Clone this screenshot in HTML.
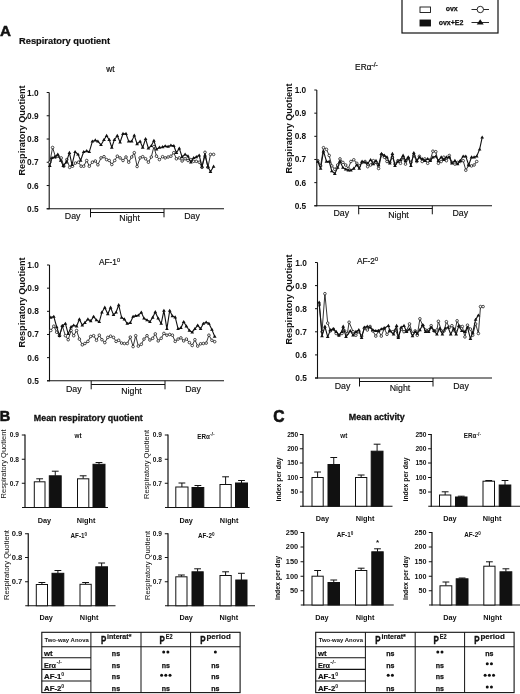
<!DOCTYPE html>
<html><head><meta charset="utf-8"><title>Figure</title>
<style>
html,body{margin:0;padding:0;background:#fff;}
body{width:520px;height:694px;overflow:hidden;font-family:'Liberation Sans', sans-serif;}
svg{display:block;filter:blur(0.3px);font-family:"Liberation Sans", sans-serif;fill:#111;}
</style></head><body>
<svg width="520" height="694" viewBox="0 0 520 694">
<rect x="0" y="0" width="520" height="694" fill="#fff"/>
<g id="A">
<text x="0.00" y="36.30" font-size="15.2" text-anchor="start" font-weight="bold" stroke="#111" stroke-width="0.5">A</text>
<text x="19.00" y="43.60" font-size="9" text-anchor="start" font-weight="bold" textLength="91" lengthAdjust="spacingAndGlyphs" stroke="#111" stroke-width="0.2">Respiratory quotient</text>
<line x1="49.20" y1="92.50" x2="49.20" y2="209.30" stroke="#111" stroke-width="1.1"/>
<line x1="46.70" y1="208.80" x2="224.00" y2="208.80" stroke="#111" stroke-width="1.1"/>
<line x1="46.70" y1="92.50" x2="49.20" y2="92.50" stroke="#111" stroke-width="1"/>
<text x="38.60" y="95.50" font-size="8.3" text-anchor="end" font-weight="bold" >1.0</text>
<line x1="46.70" y1="115.76" x2="49.20" y2="115.76" stroke="#111" stroke-width="1"/>
<text x="38.60" y="118.76" font-size="8.3" text-anchor="end" font-weight="bold" >0.9</text>
<line x1="46.70" y1="139.02" x2="49.20" y2="139.02" stroke="#111" stroke-width="1"/>
<text x="38.60" y="142.02" font-size="8.3" text-anchor="end" font-weight="bold" >0.8</text>
<line x1="46.70" y1="162.28" x2="49.20" y2="162.28" stroke="#111" stroke-width="1"/>
<text x="38.60" y="165.28" font-size="8.3" text-anchor="end" font-weight="bold" >0.7</text>
<line x1="46.70" y1="185.54" x2="49.20" y2="185.54" stroke="#111" stroke-width="1"/>
<text x="38.60" y="188.54" font-size="8.3" text-anchor="end" font-weight="bold" >0.6</text>
<line x1="46.70" y1="208.80" x2="49.20" y2="208.80" stroke="#111" stroke-width="1"/>
<text x="38.60" y="211.80" font-size="8.3" text-anchor="end" font-weight="bold" >0.5</text>
<text x="24.70" y="130.50" font-size="8.6" text-anchor="middle" font-weight="bold" textLength="90" lengthAdjust="spacingAndGlyphs" transform="rotate(-90 24.70 130.50)" >Respiratory Quotient</text>
<text x="110.5" y="72.0" font-size="8.3" text-anchor="middle" stroke="#111" stroke-width="0.2">wt</text>
<line x1="90.50" y1="208.80" x2="90.50" y2="217.30" stroke="#111" stroke-width="1"/>
<line x1="164.00" y1="208.80" x2="164.00" y2="217.30" stroke="#111" stroke-width="1"/>
<line x1="90.50" y1="212.50" x2="164.00" y2="212.50" stroke="#111" stroke-width="1"/>
<text x="72.70" y="219.40" font-size="8.8" text-anchor="middle" stroke="#111" stroke-width="0.15">Day</text>
<text x="129.60" y="221.00" font-size="8.8" text-anchor="middle" stroke="#111" stroke-width="0.15">Night</text>
<text x="192.00" y="219.40" font-size="8.8" text-anchor="middle" stroke="#111" stroke-width="0.15">Day</text>
<polyline points="49.8,162.2 52.6,147.5 55.5,157.0 58.1,156.2 61.2,157.9 63.8,166.2 66.8,159.6 69.7,167.4 72.5,166.2 75.4,163.1 78.4,162.2 81.1,166.2 83.7,166.2 86.7,160.5 89.3,166.2 92.4,162.2 95.3,161.0 97.9,164.8 101.0,157.9 104.0,156.7 106.6,159.6 109.2,160.5 111.8,164.5 114.7,160.5 117.3,156.2 120.1,157.9 123.0,160.5 126.0,157.0 128.7,162.2 131.7,157.0 134.3,152.7 137.1,166.5 140.1,157.9 142.7,156.7 145.6,158.8 148.4,162.2 151.3,157.0 153.9,146.6 156.5,156.2 159.4,159.6 162.6,156.7 165.2,157.9 168.1,157.0 170.9,156.2 173.8,152.7 176.4,158.8 179.3,157.9 182.1,161.0 185.1,158.8 188.0,160.5 190.8,159.6 193.7,161.3 196.3,161.3 199.2,162.2 202.0,167.4 205.0,152.3 207.9,167.4 210.5,154.4 213.6,154.4" fill="none" stroke="#111" stroke-width="0.85" stroke-linejoin="round"/>
<circle cx="49.8" cy="162.2" r="1.3" fill="#fff" stroke="#111" stroke-width="0.75"/>
<circle cx="52.6" cy="147.5" r="1.3" fill="#fff" stroke="#111" stroke-width="0.75"/>
<circle cx="55.5" cy="157.0" r="1.3" fill="#fff" stroke="#111" stroke-width="0.75"/>
<circle cx="58.1" cy="156.2" r="1.3" fill="#fff" stroke="#111" stroke-width="0.75"/>
<circle cx="61.2" cy="157.9" r="1.3" fill="#fff" stroke="#111" stroke-width="0.75"/>
<circle cx="63.8" cy="166.2" r="1.3" fill="#fff" stroke="#111" stroke-width="0.75"/>
<circle cx="66.8" cy="159.6" r="1.3" fill="#fff" stroke="#111" stroke-width="0.75"/>
<circle cx="69.7" cy="167.4" r="1.3" fill="#fff" stroke="#111" stroke-width="0.75"/>
<circle cx="72.5" cy="166.2" r="1.3" fill="#fff" stroke="#111" stroke-width="0.75"/>
<circle cx="75.4" cy="163.1" r="1.3" fill="#fff" stroke="#111" stroke-width="0.75"/>
<circle cx="78.4" cy="162.2" r="1.3" fill="#fff" stroke="#111" stroke-width="0.75"/>
<circle cx="81.1" cy="166.2" r="1.3" fill="#fff" stroke="#111" stroke-width="0.75"/>
<circle cx="83.7" cy="166.2" r="1.3" fill="#fff" stroke="#111" stroke-width="0.75"/>
<circle cx="86.7" cy="160.5" r="1.3" fill="#fff" stroke="#111" stroke-width="0.75"/>
<circle cx="89.3" cy="166.2" r="1.3" fill="#fff" stroke="#111" stroke-width="0.75"/>
<circle cx="92.4" cy="162.2" r="1.3" fill="#fff" stroke="#111" stroke-width="0.75"/>
<circle cx="95.3" cy="161.0" r="1.3" fill="#fff" stroke="#111" stroke-width="0.75"/>
<circle cx="97.9" cy="164.8" r="1.3" fill="#fff" stroke="#111" stroke-width="0.75"/>
<circle cx="101.0" cy="157.9" r="1.3" fill="#fff" stroke="#111" stroke-width="0.75"/>
<circle cx="104.0" cy="156.7" r="1.3" fill="#fff" stroke="#111" stroke-width="0.75"/>
<circle cx="106.6" cy="159.6" r="1.3" fill="#fff" stroke="#111" stroke-width="0.75"/>
<circle cx="109.2" cy="160.5" r="1.3" fill="#fff" stroke="#111" stroke-width="0.75"/>
<circle cx="111.8" cy="164.5" r="1.3" fill="#fff" stroke="#111" stroke-width="0.75"/>
<circle cx="114.7" cy="160.5" r="1.3" fill="#fff" stroke="#111" stroke-width="0.75"/>
<circle cx="117.3" cy="156.2" r="1.3" fill="#fff" stroke="#111" stroke-width="0.75"/>
<circle cx="120.1" cy="157.9" r="1.3" fill="#fff" stroke="#111" stroke-width="0.75"/>
<circle cx="123.0" cy="160.5" r="1.3" fill="#fff" stroke="#111" stroke-width="0.75"/>
<circle cx="126.0" cy="157.0" r="1.3" fill="#fff" stroke="#111" stroke-width="0.75"/>
<circle cx="128.7" cy="162.2" r="1.3" fill="#fff" stroke="#111" stroke-width="0.75"/>
<circle cx="131.7" cy="157.0" r="1.3" fill="#fff" stroke="#111" stroke-width="0.75"/>
<circle cx="134.3" cy="152.7" r="1.3" fill="#fff" stroke="#111" stroke-width="0.75"/>
<circle cx="137.1" cy="166.5" r="1.3" fill="#fff" stroke="#111" stroke-width="0.75"/>
<circle cx="140.1" cy="157.9" r="1.3" fill="#fff" stroke="#111" stroke-width="0.75"/>
<circle cx="142.7" cy="156.7" r="1.3" fill="#fff" stroke="#111" stroke-width="0.75"/>
<circle cx="145.6" cy="158.8" r="1.3" fill="#fff" stroke="#111" stroke-width="0.75"/>
<circle cx="148.4" cy="162.2" r="1.3" fill="#fff" stroke="#111" stroke-width="0.75"/>
<circle cx="151.3" cy="157.0" r="1.3" fill="#fff" stroke="#111" stroke-width="0.75"/>
<circle cx="153.9" cy="146.6" r="1.3" fill="#fff" stroke="#111" stroke-width="0.75"/>
<circle cx="156.5" cy="156.2" r="1.3" fill="#fff" stroke="#111" stroke-width="0.75"/>
<circle cx="159.4" cy="159.6" r="1.3" fill="#fff" stroke="#111" stroke-width="0.75"/>
<circle cx="162.6" cy="156.7" r="1.3" fill="#fff" stroke="#111" stroke-width="0.75"/>
<circle cx="165.2" cy="157.9" r="1.3" fill="#fff" stroke="#111" stroke-width="0.75"/>
<circle cx="168.1" cy="157.0" r="1.3" fill="#fff" stroke="#111" stroke-width="0.75"/>
<circle cx="170.9" cy="156.2" r="1.3" fill="#fff" stroke="#111" stroke-width="0.75"/>
<circle cx="173.8" cy="152.7" r="1.3" fill="#fff" stroke="#111" stroke-width="0.75"/>
<circle cx="176.4" cy="158.8" r="1.3" fill="#fff" stroke="#111" stroke-width="0.75"/>
<circle cx="179.3" cy="157.9" r="1.3" fill="#fff" stroke="#111" stroke-width="0.75"/>
<circle cx="182.1" cy="161.0" r="1.3" fill="#fff" stroke="#111" stroke-width="0.75"/>
<circle cx="185.1" cy="158.8" r="1.3" fill="#fff" stroke="#111" stroke-width="0.75"/>
<circle cx="188.0" cy="160.5" r="1.3" fill="#fff" stroke="#111" stroke-width="0.75"/>
<circle cx="190.8" cy="159.6" r="1.3" fill="#fff" stroke="#111" stroke-width="0.75"/>
<circle cx="193.7" cy="161.3" r="1.3" fill="#fff" stroke="#111" stroke-width="0.75"/>
<circle cx="196.3" cy="161.3" r="1.3" fill="#fff" stroke="#111" stroke-width="0.75"/>
<circle cx="199.2" cy="162.2" r="1.3" fill="#fff" stroke="#111" stroke-width="0.75"/>
<circle cx="202.0" cy="167.4" r="1.3" fill="#fff" stroke="#111" stroke-width="0.75"/>
<circle cx="205.0" cy="152.3" r="1.3" fill="#fff" stroke="#111" stroke-width="0.75"/>
<circle cx="207.9" cy="167.4" r="1.3" fill="#fff" stroke="#111" stroke-width="0.75"/>
<circle cx="210.5" cy="154.4" r="1.3" fill="#fff" stroke="#111" stroke-width="0.75"/>
<circle cx="213.6" cy="154.4" r="1.3" fill="#fff" stroke="#111" stroke-width="0.75"/>
<polyline points="49.8,165.7 52.1,157.9 54.7,157.0 57.8,154.4 60.7,160.5 63.3,165.7 66.4,162.2 69.4,152.7 72.0,164.8 75.1,151.8 78.0,154.4 80.6,160.5 83.7,151.8 86.7,151.0 89.3,151.8 92.4,141.4 95.3,140.2 97.9,141.4 101.0,144.9 104.0,139.7 106.6,135.7 109.2,139.7 111.8,147.5 114.4,139.7 117.3,135.7 120.1,142.3 123.0,133.7 126.0,133.7 128.7,141.4 131.7,141.4 134.3,135.4 137.1,144.0 140.1,141.4 142.7,147.5 145.6,138.8 148.4,148.4 151.3,145.8 153.9,140.6 156.5,149.2 159.4,147.5 162.6,147.0 165.2,146.1 168.1,146.6 170.9,145.4 173.8,145.8 176.4,152.7 179.3,148.4 182.1,157.0 185.1,154.4 188.0,156.2 190.8,162.2 193.7,157.9 196.3,157.0 199.2,155.3 202.0,166.5 205.0,155.3 207.9,166.5 210.5,171.7 213.6,166.5" fill="none" stroke="#111" stroke-width="1.1" stroke-linejoin="round"/>
<path d="M49.8 163.8l1.85 3.1h-3.7z" fill="#111"/>
<path d="M52.1 156.0l1.85 3.1h-3.7z" fill="#111"/>
<path d="M54.7 155.1l1.85 3.1h-3.7z" fill="#111"/>
<path d="M57.8 152.5l1.85 3.1h-3.7z" fill="#111"/>
<path d="M60.7 158.6l1.85 3.1h-3.7z" fill="#111"/>
<path d="M63.3 163.8l1.85 3.1h-3.7z" fill="#111"/>
<path d="M66.4 160.3l1.85 3.1h-3.7z" fill="#111"/>
<path d="M69.4 150.8l1.85 3.1h-3.7z" fill="#111"/>
<path d="M72.0 162.9l1.85 3.1h-3.7z" fill="#111"/>
<path d="M75.1 149.9l1.85 3.1h-3.7z" fill="#111"/>
<path d="M78.0 152.5l1.85 3.1h-3.7z" fill="#111"/>
<path d="M80.6 158.6l1.85 3.1h-3.7z" fill="#111"/>
<path d="M83.7 149.9l1.85 3.1h-3.7z" fill="#111"/>
<path d="M86.7 149.1l1.85 3.1h-3.7z" fill="#111"/>
<path d="M89.3 149.9l1.85 3.1h-3.7z" fill="#111"/>
<path d="M92.4 139.5l1.85 3.1h-3.7z" fill="#111"/>
<path d="M95.3 138.3l1.85 3.1h-3.7z" fill="#111"/>
<path d="M97.9 139.5l1.85 3.1h-3.7z" fill="#111"/>
<path d="M101.0 143.0l1.85 3.1h-3.7z" fill="#111"/>
<path d="M104.0 137.8l1.85 3.1h-3.7z" fill="#111"/>
<path d="M106.6 133.8l1.85 3.1h-3.7z" fill="#111"/>
<path d="M109.2 137.8l1.85 3.1h-3.7z" fill="#111"/>
<path d="M111.8 145.6l1.85 3.1h-3.7z" fill="#111"/>
<path d="M114.4 137.8l1.85 3.1h-3.7z" fill="#111"/>
<path d="M117.3 133.8l1.85 3.1h-3.7z" fill="#111"/>
<path d="M120.1 140.4l1.85 3.1h-3.7z" fill="#111"/>
<path d="M123.0 131.8l1.85 3.1h-3.7z" fill="#111"/>
<path d="M126.0 131.8l1.85 3.1h-3.7z" fill="#111"/>
<path d="M128.7 139.5l1.85 3.1h-3.7z" fill="#111"/>
<path d="M131.7 139.5l1.85 3.1h-3.7z" fill="#111"/>
<path d="M134.3 133.5l1.85 3.1h-3.7z" fill="#111"/>
<path d="M137.1 142.1l1.85 3.1h-3.7z" fill="#111"/>
<path d="M140.1 139.5l1.85 3.1h-3.7z" fill="#111"/>
<path d="M142.7 145.6l1.85 3.1h-3.7z" fill="#111"/>
<path d="M145.6 136.9l1.85 3.1h-3.7z" fill="#111"/>
<path d="M148.4 146.5l1.85 3.1h-3.7z" fill="#111"/>
<path d="M151.3 143.9l1.85 3.1h-3.7z" fill="#111"/>
<path d="M153.9 138.7l1.85 3.1h-3.7z" fill="#111"/>
<path d="M156.5 147.3l1.85 3.1h-3.7z" fill="#111"/>
<path d="M159.4 145.6l1.85 3.1h-3.7z" fill="#111"/>
<path d="M162.6 145.1l1.85 3.1h-3.7z" fill="#111"/>
<path d="M165.2 144.2l1.85 3.1h-3.7z" fill="#111"/>
<path d="M168.1 144.7l1.85 3.1h-3.7z" fill="#111"/>
<path d="M170.9 143.5l1.85 3.1h-3.7z" fill="#111"/>
<path d="M173.8 143.9l1.85 3.1h-3.7z" fill="#111"/>
<path d="M176.4 150.8l1.85 3.1h-3.7z" fill="#111"/>
<path d="M179.3 146.5l1.85 3.1h-3.7z" fill="#111"/>
<path d="M182.1 155.1l1.85 3.1h-3.7z" fill="#111"/>
<path d="M185.1 152.5l1.85 3.1h-3.7z" fill="#111"/>
<path d="M188.0 154.3l1.85 3.1h-3.7z" fill="#111"/>
<path d="M190.8 160.3l1.85 3.1h-3.7z" fill="#111"/>
<path d="M193.7 156.0l1.85 3.1h-3.7z" fill="#111"/>
<path d="M196.3 155.1l1.85 3.1h-3.7z" fill="#111"/>
<path d="M199.2 153.4l1.85 3.1h-3.7z" fill="#111"/>
<path d="M202.0 164.6l1.85 3.1h-3.7z" fill="#111"/>
<path d="M205.0 153.4l1.85 3.1h-3.7z" fill="#111"/>
<path d="M207.9 164.6l1.85 3.1h-3.7z" fill="#111"/>
<path d="M210.5 169.8l1.85 3.1h-3.7z" fill="#111"/>
<path d="M213.6 164.6l1.85 3.1h-3.7z" fill="#111"/>
<line x1="316.80" y1="90.00" x2="316.80" y2="206.30" stroke="#111" stroke-width="1.1"/>
<line x1="314.30" y1="205.80" x2="492.00" y2="205.80" stroke="#111" stroke-width="1.1"/>
<line x1="314.30" y1="90.00" x2="316.80" y2="90.00" stroke="#111" stroke-width="1"/>
<text x="306.20" y="93.00" font-size="8.3" text-anchor="end" font-weight="bold" >1.0</text>
<line x1="314.30" y1="113.16" x2="316.80" y2="113.16" stroke="#111" stroke-width="1"/>
<text x="306.20" y="116.16" font-size="8.3" text-anchor="end" font-weight="bold" >0.9</text>
<line x1="314.30" y1="136.32" x2="316.80" y2="136.32" stroke="#111" stroke-width="1"/>
<text x="306.20" y="139.32" font-size="8.3" text-anchor="end" font-weight="bold" >0.8</text>
<line x1="314.30" y1="159.48" x2="316.80" y2="159.48" stroke="#111" stroke-width="1"/>
<text x="306.20" y="162.48" font-size="8.3" text-anchor="end" font-weight="bold" >0.7</text>
<line x1="314.30" y1="182.64" x2="316.80" y2="182.64" stroke="#111" stroke-width="1"/>
<text x="306.20" y="185.64" font-size="8.3" text-anchor="end" font-weight="bold" >0.6</text>
<line x1="314.30" y1="205.80" x2="316.80" y2="205.80" stroke="#111" stroke-width="1"/>
<text x="306.20" y="208.80" font-size="8.3" text-anchor="end" font-weight="bold" >0.5</text>
<text x="291.70" y="128.50" font-size="8.6" text-anchor="middle" font-weight="bold" textLength="90" lengthAdjust="spacingAndGlyphs" transform="rotate(-90 291.70 128.50)" >Respiratory Quotient</text>
<text x="366.4" y="70.2" font-size="8.3" text-anchor="middle" stroke="#111" stroke-width="0.2">ERα<tspan font-size="6.6" dy="-3.4">-/-</tspan></text>
<line x1="358.70" y1="205.80" x2="358.70" y2="214.30" stroke="#111" stroke-width="1"/>
<line x1="432.30" y1="205.80" x2="432.30" y2="214.30" stroke="#111" stroke-width="1"/>
<line x1="358.70" y1="208.50" x2="432.30" y2="208.50" stroke="#111" stroke-width="1"/>
<text x="341.30" y="215.90" font-size="8.8" text-anchor="middle" stroke="#111" stroke-width="0.15">Day</text>
<text x="398.50" y="217.50" font-size="8.8" text-anchor="middle" stroke="#111" stroke-width="0.15">Night</text>
<text x="460.30" y="215.90" font-size="8.8" text-anchor="middle" stroke="#111" stroke-width="0.15">Day</text>
<polyline points="317.8,160.7 320.6,165.9 323.5,147.7 326.5,149.4 329.2,155.5 331.8,165.9 334.8,169.3 337.7,165.0 340.0,158.9 342.9,162.4 345.7,165.0 348.3,168.5 350.9,161.5 353.8,159.8 356.8,163.3 359.3,165.9 362.1,162.4 365.1,161.5 367.7,166.7 370.6,165.0 373.4,160.7 376.0,162.4 378.6,168.5 381.5,154.6 384.4,157.2 387.0,161.5 389.8,162.4 392.4,157.2 395.0,164.1 397.9,160.7 400.5,163.3 403.1,157.2 405.5,164.1 408.3,158.1 410.9,162.4 413.8,155.5 416.8,161.5 419.4,156.3 422.2,161.5 424.8,158.9 427.7,163.3 430.3,159.8 432.9,151.2 435.8,151.7 438.4,163.3 441.2,161.5 443.8,157.2 446.4,160.7 449.3,155.5 451.9,162.4 454.9,164.1 457.6,162.4 460.2,161.5 463.2,160.7 465.8,170.2 468.7,165.3 471.5,165.9 474.1,165.0 476.7,161.5" fill="none" stroke="#111" stroke-width="0.85" stroke-linejoin="round"/>
<circle cx="317.8" cy="160.7" r="1.3" fill="#fff" stroke="#111" stroke-width="0.75"/>
<circle cx="320.6" cy="165.9" r="1.3" fill="#fff" stroke="#111" stroke-width="0.75"/>
<circle cx="323.5" cy="147.7" r="1.3" fill="#fff" stroke="#111" stroke-width="0.75"/>
<circle cx="326.5" cy="149.4" r="1.3" fill="#fff" stroke="#111" stroke-width="0.75"/>
<circle cx="329.2" cy="155.5" r="1.3" fill="#fff" stroke="#111" stroke-width="0.75"/>
<circle cx="331.8" cy="165.9" r="1.3" fill="#fff" stroke="#111" stroke-width="0.75"/>
<circle cx="334.8" cy="169.3" r="1.3" fill="#fff" stroke="#111" stroke-width="0.75"/>
<circle cx="337.7" cy="165.0" r="1.3" fill="#fff" stroke="#111" stroke-width="0.75"/>
<circle cx="340.0" cy="158.9" r="1.3" fill="#fff" stroke="#111" stroke-width="0.75"/>
<circle cx="342.9" cy="162.4" r="1.3" fill="#fff" stroke="#111" stroke-width="0.75"/>
<circle cx="345.7" cy="165.0" r="1.3" fill="#fff" stroke="#111" stroke-width="0.75"/>
<circle cx="348.3" cy="168.5" r="1.3" fill="#fff" stroke="#111" stroke-width="0.75"/>
<circle cx="350.9" cy="161.5" r="1.3" fill="#fff" stroke="#111" stroke-width="0.75"/>
<circle cx="353.8" cy="159.8" r="1.3" fill="#fff" stroke="#111" stroke-width="0.75"/>
<circle cx="356.8" cy="163.3" r="1.3" fill="#fff" stroke="#111" stroke-width="0.75"/>
<circle cx="359.3" cy="165.9" r="1.3" fill="#fff" stroke="#111" stroke-width="0.75"/>
<circle cx="362.1" cy="162.4" r="1.3" fill="#fff" stroke="#111" stroke-width="0.75"/>
<circle cx="365.1" cy="161.5" r="1.3" fill="#fff" stroke="#111" stroke-width="0.75"/>
<circle cx="367.7" cy="166.7" r="1.3" fill="#fff" stroke="#111" stroke-width="0.75"/>
<circle cx="370.6" cy="165.0" r="1.3" fill="#fff" stroke="#111" stroke-width="0.75"/>
<circle cx="373.4" cy="160.7" r="1.3" fill="#fff" stroke="#111" stroke-width="0.75"/>
<circle cx="376.0" cy="162.4" r="1.3" fill="#fff" stroke="#111" stroke-width="0.75"/>
<circle cx="378.6" cy="168.5" r="1.3" fill="#fff" stroke="#111" stroke-width="0.75"/>
<circle cx="381.5" cy="154.6" r="1.3" fill="#fff" stroke="#111" stroke-width="0.75"/>
<circle cx="384.4" cy="157.2" r="1.3" fill="#fff" stroke="#111" stroke-width="0.75"/>
<circle cx="387.0" cy="161.5" r="1.3" fill="#fff" stroke="#111" stroke-width="0.75"/>
<circle cx="389.8" cy="162.4" r="1.3" fill="#fff" stroke="#111" stroke-width="0.75"/>
<circle cx="392.4" cy="157.2" r="1.3" fill="#fff" stroke="#111" stroke-width="0.75"/>
<circle cx="395.0" cy="164.1" r="1.3" fill="#fff" stroke="#111" stroke-width="0.75"/>
<circle cx="397.9" cy="160.7" r="1.3" fill="#fff" stroke="#111" stroke-width="0.75"/>
<circle cx="400.5" cy="163.3" r="1.3" fill="#fff" stroke="#111" stroke-width="0.75"/>
<circle cx="403.1" cy="157.2" r="1.3" fill="#fff" stroke="#111" stroke-width="0.75"/>
<circle cx="405.5" cy="164.1" r="1.3" fill="#fff" stroke="#111" stroke-width="0.75"/>
<circle cx="408.3" cy="158.1" r="1.3" fill="#fff" stroke="#111" stroke-width="0.75"/>
<circle cx="410.9" cy="162.4" r="1.3" fill="#fff" stroke="#111" stroke-width="0.75"/>
<circle cx="413.8" cy="155.5" r="1.3" fill="#fff" stroke="#111" stroke-width="0.75"/>
<circle cx="416.8" cy="161.5" r="1.3" fill="#fff" stroke="#111" stroke-width="0.75"/>
<circle cx="419.4" cy="156.3" r="1.3" fill="#fff" stroke="#111" stroke-width="0.75"/>
<circle cx="422.2" cy="161.5" r="1.3" fill="#fff" stroke="#111" stroke-width="0.75"/>
<circle cx="424.8" cy="158.9" r="1.3" fill="#fff" stroke="#111" stroke-width="0.75"/>
<circle cx="427.7" cy="163.3" r="1.3" fill="#fff" stroke="#111" stroke-width="0.75"/>
<circle cx="430.3" cy="159.8" r="1.3" fill="#fff" stroke="#111" stroke-width="0.75"/>
<circle cx="432.9" cy="151.2" r="1.3" fill="#fff" stroke="#111" stroke-width="0.75"/>
<circle cx="435.8" cy="151.7" r="1.3" fill="#fff" stroke="#111" stroke-width="0.75"/>
<circle cx="438.4" cy="163.3" r="1.3" fill="#fff" stroke="#111" stroke-width="0.75"/>
<circle cx="441.2" cy="161.5" r="1.3" fill="#fff" stroke="#111" stroke-width="0.75"/>
<circle cx="443.8" cy="157.2" r="1.3" fill="#fff" stroke="#111" stroke-width="0.75"/>
<circle cx="446.4" cy="160.7" r="1.3" fill="#fff" stroke="#111" stroke-width="0.75"/>
<circle cx="449.3" cy="155.5" r="1.3" fill="#fff" stroke="#111" stroke-width="0.75"/>
<circle cx="451.9" cy="162.4" r="1.3" fill="#fff" stroke="#111" stroke-width="0.75"/>
<circle cx="454.9" cy="164.1" r="1.3" fill="#fff" stroke="#111" stroke-width="0.75"/>
<circle cx="457.6" cy="162.4" r="1.3" fill="#fff" stroke="#111" stroke-width="0.75"/>
<circle cx="460.2" cy="161.5" r="1.3" fill="#fff" stroke="#111" stroke-width="0.75"/>
<circle cx="463.2" cy="160.7" r="1.3" fill="#fff" stroke="#111" stroke-width="0.75"/>
<circle cx="465.8" cy="170.2" r="1.3" fill="#fff" stroke="#111" stroke-width="0.75"/>
<circle cx="468.7" cy="165.3" r="1.3" fill="#fff" stroke="#111" stroke-width="0.75"/>
<circle cx="471.5" cy="165.9" r="1.3" fill="#fff" stroke="#111" stroke-width="0.75"/>
<circle cx="474.1" cy="165.0" r="1.3" fill="#fff" stroke="#111" stroke-width="0.75"/>
<circle cx="476.7" cy="161.5" r="1.3" fill="#fff" stroke="#111" stroke-width="0.75"/>
<polyline points="317.8,161.5 320.6,168.5 323.5,151.2 326.5,161.5 329.2,161.5 331.8,171.1 334.8,173.7 337.7,167.6 340.0,161.5 342.9,167.6 345.7,169.3 348.3,170.2 350.9,170.2 353.8,168.5 356.8,165.0 359.3,168.5 362.1,161.5 365.1,162.4 367.7,163.3 370.6,159.8 373.4,164.1 376.0,160.7 378.6,165.0 381.5,153.8 384.4,155.5 387.0,157.2 389.8,163.3 392.4,153.8 395.0,165.9 397.9,161.5 400.5,159.8 403.1,155.5 405.5,160.7 408.3,157.2 410.9,165.9 413.8,152.9 416.8,160.7 419.4,157.2 422.2,158.9 424.8,160.7 427.7,158.9 430.3,160.7 432.9,157.2 435.8,156.3 438.4,160.7 441.2,157.2 443.8,159.8 446.4,157.2 449.3,157.2 451.9,163.3 454.9,160.7 457.6,164.1 460.2,160.7 463.2,156.3 465.8,156.3 468.7,165.0 471.5,157.2 474.1,157.2 476.7,156.3 479.6,149.4 482.2,137.3" fill="none" stroke="#111" stroke-width="1.1" stroke-linejoin="round"/>
<path d="M317.8 159.6l1.85 3.1h-3.7z" fill="#111"/>
<path d="M320.6 166.6l1.85 3.1h-3.7z" fill="#111"/>
<path d="M323.5 149.3l1.85 3.1h-3.7z" fill="#111"/>
<path d="M326.5 159.6l1.85 3.1h-3.7z" fill="#111"/>
<path d="M329.2 159.6l1.85 3.1h-3.7z" fill="#111"/>
<path d="M331.8 169.2l1.85 3.1h-3.7z" fill="#111"/>
<path d="M334.8 171.8l1.85 3.1h-3.7z" fill="#111"/>
<path d="M337.7 165.7l1.85 3.1h-3.7z" fill="#111"/>
<path d="M340.0 159.6l1.85 3.1h-3.7z" fill="#111"/>
<path d="M342.9 165.7l1.85 3.1h-3.7z" fill="#111"/>
<path d="M345.7 167.4l1.85 3.1h-3.7z" fill="#111"/>
<path d="M348.3 168.3l1.85 3.1h-3.7z" fill="#111"/>
<path d="M350.9 168.3l1.85 3.1h-3.7z" fill="#111"/>
<path d="M353.8 166.6l1.85 3.1h-3.7z" fill="#111"/>
<path d="M356.8 163.1l1.85 3.1h-3.7z" fill="#111"/>
<path d="M359.3 166.6l1.85 3.1h-3.7z" fill="#111"/>
<path d="M362.1 159.6l1.85 3.1h-3.7z" fill="#111"/>
<path d="M365.1 160.5l1.85 3.1h-3.7z" fill="#111"/>
<path d="M367.7 161.4l1.85 3.1h-3.7z" fill="#111"/>
<path d="M370.6 157.9l1.85 3.1h-3.7z" fill="#111"/>
<path d="M373.4 162.2l1.85 3.1h-3.7z" fill="#111"/>
<path d="M376.0 158.8l1.85 3.1h-3.7z" fill="#111"/>
<path d="M378.6 163.1l1.85 3.1h-3.7z" fill="#111"/>
<path d="M381.5 151.8l1.85 3.1h-3.7z" fill="#111"/>
<path d="M384.4 153.6l1.85 3.1h-3.7z" fill="#111"/>
<path d="M387.0 155.3l1.85 3.1h-3.7z" fill="#111"/>
<path d="M389.8 161.4l1.85 3.1h-3.7z" fill="#111"/>
<path d="M392.4 151.8l1.85 3.1h-3.7z" fill="#111"/>
<path d="M395.0 164.0l1.85 3.1h-3.7z" fill="#111"/>
<path d="M397.9 159.6l1.85 3.1h-3.7z" fill="#111"/>
<path d="M400.5 157.9l1.85 3.1h-3.7z" fill="#111"/>
<path d="M403.1 153.6l1.85 3.1h-3.7z" fill="#111"/>
<path d="M405.5 158.8l1.85 3.1h-3.7z" fill="#111"/>
<path d="M408.3 155.3l1.85 3.1h-3.7z" fill="#111"/>
<path d="M410.9 164.0l1.85 3.1h-3.7z" fill="#111"/>
<path d="M413.8 151.0l1.85 3.1h-3.7z" fill="#111"/>
<path d="M416.8 158.8l1.85 3.1h-3.7z" fill="#111"/>
<path d="M419.4 155.3l1.85 3.1h-3.7z" fill="#111"/>
<path d="M422.2 157.0l1.85 3.1h-3.7z" fill="#111"/>
<path d="M424.8 158.8l1.85 3.1h-3.7z" fill="#111"/>
<path d="M427.7 157.0l1.85 3.1h-3.7z" fill="#111"/>
<path d="M430.3 158.8l1.85 3.1h-3.7z" fill="#111"/>
<path d="M432.9 155.3l1.85 3.1h-3.7z" fill="#111"/>
<path d="M435.8 154.4l1.85 3.1h-3.7z" fill="#111"/>
<path d="M438.4 158.8l1.85 3.1h-3.7z" fill="#111"/>
<path d="M441.2 155.3l1.85 3.1h-3.7z" fill="#111"/>
<path d="M443.8 157.9l1.85 3.1h-3.7z" fill="#111"/>
<path d="M446.4 155.3l1.85 3.1h-3.7z" fill="#111"/>
<path d="M449.3 155.3l1.85 3.1h-3.7z" fill="#111"/>
<path d="M451.9 161.4l1.85 3.1h-3.7z" fill="#111"/>
<path d="M454.9 158.8l1.85 3.1h-3.7z" fill="#111"/>
<path d="M457.6 162.2l1.85 3.1h-3.7z" fill="#111"/>
<path d="M460.2 158.8l1.85 3.1h-3.7z" fill="#111"/>
<path d="M463.2 154.4l1.85 3.1h-3.7z" fill="#111"/>
<path d="M465.8 154.4l1.85 3.1h-3.7z" fill="#111"/>
<path d="M468.7 163.1l1.85 3.1h-3.7z" fill="#111"/>
<path d="M471.5 155.3l1.85 3.1h-3.7z" fill="#111"/>
<path d="M474.1 155.3l1.85 3.1h-3.7z" fill="#111"/>
<path d="M476.7 154.4l1.85 3.1h-3.7z" fill="#111"/>
<path d="M479.6 147.5l1.85 3.1h-3.7z" fill="#111"/>
<path d="M482.2 135.4l1.85 3.1h-3.7z" fill="#111"/>
<line x1="49.50" y1="265.00" x2="49.50" y2="381.30" stroke="#111" stroke-width="1.1"/>
<line x1="47.00" y1="380.80" x2="224.00" y2="380.80" stroke="#111" stroke-width="1.1"/>
<line x1="47.00" y1="265.00" x2="49.50" y2="265.00" stroke="#111" stroke-width="1"/>
<text x="38.90" y="268.00" font-size="8.3" text-anchor="end" font-weight="bold" >1.0</text>
<line x1="47.00" y1="288.16" x2="49.50" y2="288.16" stroke="#111" stroke-width="1"/>
<text x="38.90" y="291.16" font-size="8.3" text-anchor="end" font-weight="bold" >0.9</text>
<line x1="47.00" y1="311.32" x2="49.50" y2="311.32" stroke="#111" stroke-width="1"/>
<text x="38.90" y="314.32" font-size="8.3" text-anchor="end" font-weight="bold" >0.8</text>
<line x1="47.00" y1="334.48" x2="49.50" y2="334.48" stroke="#111" stroke-width="1"/>
<text x="38.90" y="337.48" font-size="8.3" text-anchor="end" font-weight="bold" >0.7</text>
<line x1="47.00" y1="357.64" x2="49.50" y2="357.64" stroke="#111" stroke-width="1"/>
<text x="38.90" y="360.64" font-size="8.3" text-anchor="end" font-weight="bold" >0.6</text>
<line x1="47.00" y1="380.80" x2="49.50" y2="380.80" stroke="#111" stroke-width="1"/>
<text x="38.90" y="383.80" font-size="8.3" text-anchor="end" font-weight="bold" >0.5</text>
<text x="24.70" y="302.50" font-size="8.6" text-anchor="middle" font-weight="bold" textLength="90" lengthAdjust="spacingAndGlyphs" transform="rotate(-90 24.70 302.50)" >Respiratory Quotient</text>
<text x="109.5" y="264.5" font-size="8.3" text-anchor="middle" stroke="#111" stroke-width="0.2">AF-1<tspan font-size="5.5" dy="-3">0</tspan></text>
<line x1="91.20" y1="380.80" x2="91.20" y2="389.30" stroke="#111" stroke-width="1"/>
<line x1="165.00" y1="380.80" x2="165.00" y2="389.30" stroke="#111" stroke-width="1"/>
<line x1="91.20" y1="384.50" x2="165.00" y2="384.50" stroke="#111" stroke-width="1"/>
<text x="73.80" y="391.90" font-size="8.8" text-anchor="middle" stroke="#111" stroke-width="0.15">Day</text>
<text x="131.50" y="393.50" font-size="8.8" text-anchor="middle" stroke="#111" stroke-width="0.15">Night</text>
<text x="193.00" y="391.90" font-size="8.8" text-anchor="middle" stroke="#111" stroke-width="0.15">Day</text>
<polyline points="50.8,330.5 53.8,326.2 56.7,332.2 59.5,335.7 62.4,326.2 65.4,335.7 68.2,339.7 71.1,330.5 73.7,335.7 76.6,330.5 79.4,339.1 82.3,344.8 84.9,343.5 87.9,341.4 90.7,336.5 93.6,335.7 96.5,340.3 99.3,335.2 101.9,339.7 104.8,342.6 107.8,337.4 110.6,336.2 113.5,337.4 116.1,341.4 118.7,340.3 121.6,343.1 124.4,343.5 127.3,343.5 130.3,337.1 133.1,346.6 135.7,335.7 138.3,346.1 141.3,344.3 144.0,339.1 147.0,335.7 149.9,340.0 152.7,338.3 155.3,333.9 158.2,340.9 161.2,338.3 163.9,333.4 166.9,335.2 169.7,334.5 172.4,335.2 175.2,341.4 178.1,339.1 180.9,337.9 183.7,340.9 186.4,339.1 189.4,342.6 192.2,345.5 194.9,339.7 197.7,346.1 200.6,343.8 203.4,343.5 206.2,343.1 208.9,335.2 211.9,340.3 214.7,341.7" fill="none" stroke="#111" stroke-width="0.85" stroke-linejoin="round"/>
<circle cx="50.8" cy="330.5" r="1.3" fill="#fff" stroke="#111" stroke-width="0.75"/>
<circle cx="53.8" cy="326.2" r="1.3" fill="#fff" stroke="#111" stroke-width="0.75"/>
<circle cx="56.7" cy="332.2" r="1.3" fill="#fff" stroke="#111" stroke-width="0.75"/>
<circle cx="59.5" cy="335.7" r="1.3" fill="#fff" stroke="#111" stroke-width="0.75"/>
<circle cx="62.4" cy="326.2" r="1.3" fill="#fff" stroke="#111" stroke-width="0.75"/>
<circle cx="65.4" cy="335.7" r="1.3" fill="#fff" stroke="#111" stroke-width="0.75"/>
<circle cx="68.2" cy="339.7" r="1.3" fill="#fff" stroke="#111" stroke-width="0.75"/>
<circle cx="71.1" cy="330.5" r="1.3" fill="#fff" stroke="#111" stroke-width="0.75"/>
<circle cx="73.7" cy="335.7" r="1.3" fill="#fff" stroke="#111" stroke-width="0.75"/>
<circle cx="76.6" cy="330.5" r="1.3" fill="#fff" stroke="#111" stroke-width="0.75"/>
<circle cx="79.4" cy="339.1" r="1.3" fill="#fff" stroke="#111" stroke-width="0.75"/>
<circle cx="82.3" cy="344.8" r="1.3" fill="#fff" stroke="#111" stroke-width="0.75"/>
<circle cx="84.9" cy="343.5" r="1.3" fill="#fff" stroke="#111" stroke-width="0.75"/>
<circle cx="87.9" cy="341.4" r="1.3" fill="#fff" stroke="#111" stroke-width="0.75"/>
<circle cx="90.7" cy="336.5" r="1.3" fill="#fff" stroke="#111" stroke-width="0.75"/>
<circle cx="93.6" cy="335.7" r="1.3" fill="#fff" stroke="#111" stroke-width="0.75"/>
<circle cx="96.5" cy="340.3" r="1.3" fill="#fff" stroke="#111" stroke-width="0.75"/>
<circle cx="99.3" cy="335.2" r="1.3" fill="#fff" stroke="#111" stroke-width="0.75"/>
<circle cx="101.9" cy="339.7" r="1.3" fill="#fff" stroke="#111" stroke-width="0.75"/>
<circle cx="104.8" cy="342.6" r="1.3" fill="#fff" stroke="#111" stroke-width="0.75"/>
<circle cx="107.8" cy="337.4" r="1.3" fill="#fff" stroke="#111" stroke-width="0.75"/>
<circle cx="110.6" cy="336.2" r="1.3" fill="#fff" stroke="#111" stroke-width="0.75"/>
<circle cx="113.5" cy="337.4" r="1.3" fill="#fff" stroke="#111" stroke-width="0.75"/>
<circle cx="116.1" cy="341.4" r="1.3" fill="#fff" stroke="#111" stroke-width="0.75"/>
<circle cx="118.7" cy="340.3" r="1.3" fill="#fff" stroke="#111" stroke-width="0.75"/>
<circle cx="121.6" cy="343.1" r="1.3" fill="#fff" stroke="#111" stroke-width="0.75"/>
<circle cx="124.4" cy="343.5" r="1.3" fill="#fff" stroke="#111" stroke-width="0.75"/>
<circle cx="127.3" cy="343.5" r="1.3" fill="#fff" stroke="#111" stroke-width="0.75"/>
<circle cx="130.3" cy="337.1" r="1.3" fill="#fff" stroke="#111" stroke-width="0.75"/>
<circle cx="133.1" cy="346.6" r="1.3" fill="#fff" stroke="#111" stroke-width="0.75"/>
<circle cx="135.7" cy="335.7" r="1.3" fill="#fff" stroke="#111" stroke-width="0.75"/>
<circle cx="138.3" cy="346.1" r="1.3" fill="#fff" stroke="#111" stroke-width="0.75"/>
<circle cx="141.3" cy="344.3" r="1.3" fill="#fff" stroke="#111" stroke-width="0.75"/>
<circle cx="144.0" cy="339.1" r="1.3" fill="#fff" stroke="#111" stroke-width="0.75"/>
<circle cx="147.0" cy="335.7" r="1.3" fill="#fff" stroke="#111" stroke-width="0.75"/>
<circle cx="149.9" cy="340.0" r="1.3" fill="#fff" stroke="#111" stroke-width="0.75"/>
<circle cx="152.7" cy="338.3" r="1.3" fill="#fff" stroke="#111" stroke-width="0.75"/>
<circle cx="155.3" cy="333.9" r="1.3" fill="#fff" stroke="#111" stroke-width="0.75"/>
<circle cx="158.2" cy="340.9" r="1.3" fill="#fff" stroke="#111" stroke-width="0.75"/>
<circle cx="161.2" cy="338.3" r="1.3" fill="#fff" stroke="#111" stroke-width="0.75"/>
<circle cx="163.9" cy="333.4" r="1.3" fill="#fff" stroke="#111" stroke-width="0.75"/>
<circle cx="166.9" cy="335.2" r="1.3" fill="#fff" stroke="#111" stroke-width="0.75"/>
<circle cx="169.7" cy="334.5" r="1.3" fill="#fff" stroke="#111" stroke-width="0.75"/>
<circle cx="172.4" cy="335.2" r="1.3" fill="#fff" stroke="#111" stroke-width="0.75"/>
<circle cx="175.2" cy="341.4" r="1.3" fill="#fff" stroke="#111" stroke-width="0.75"/>
<circle cx="178.1" cy="339.1" r="1.3" fill="#fff" stroke="#111" stroke-width="0.75"/>
<circle cx="180.9" cy="337.9" r="1.3" fill="#fff" stroke="#111" stroke-width="0.75"/>
<circle cx="183.7" cy="340.9" r="1.3" fill="#fff" stroke="#111" stroke-width="0.75"/>
<circle cx="186.4" cy="339.1" r="1.3" fill="#fff" stroke="#111" stroke-width="0.75"/>
<circle cx="189.4" cy="342.6" r="1.3" fill="#fff" stroke="#111" stroke-width="0.75"/>
<circle cx="192.2" cy="345.5" r="1.3" fill="#fff" stroke="#111" stroke-width="0.75"/>
<circle cx="194.9" cy="339.7" r="1.3" fill="#fff" stroke="#111" stroke-width="0.75"/>
<circle cx="197.7" cy="346.1" r="1.3" fill="#fff" stroke="#111" stroke-width="0.75"/>
<circle cx="200.6" cy="343.8" r="1.3" fill="#fff" stroke="#111" stroke-width="0.75"/>
<circle cx="203.4" cy="343.5" r="1.3" fill="#fff" stroke="#111" stroke-width="0.75"/>
<circle cx="206.2" cy="343.1" r="1.3" fill="#fff" stroke="#111" stroke-width="0.75"/>
<circle cx="208.9" cy="335.2" r="1.3" fill="#fff" stroke="#111" stroke-width="0.75"/>
<circle cx="211.9" cy="340.3" r="1.3" fill="#fff" stroke="#111" stroke-width="0.75"/>
<circle cx="214.7" cy="341.7" r="1.3" fill="#fff" stroke="#111" stroke-width="0.75"/>
<polyline points="50.8,317.5 53.8,316.6 56.7,327.0 59.5,335.7 62.4,325.8 65.4,323.6 68.2,333.9 71.1,327.0 73.7,325.3 76.6,326.2 79.4,319.2 82.3,325.3 84.9,322.7 87.9,319.2 90.7,321.0 93.6,316.6 96.5,320.1 99.3,321.8 101.9,312.3 104.8,307.5 107.8,314.0 110.6,307.5 113.5,314.9 116.1,312.3 118.7,305.0 121.6,317.5 124.4,319.2 127.3,323.6 130.3,322.7 133.1,316.6 135.7,315.8 138.3,315.4 141.3,312.3 144.0,318.4 147.0,320.1 149.9,321.8 152.7,317.5 155.3,312.0 158.2,318.4 161.2,323.6 163.9,310.6 166.9,328.8 169.7,310.6 172.4,316.1 175.2,317.2 178.1,328.8 180.9,327.9 183.7,321.8 186.4,326.2 189.4,330.5 192.2,332.2 194.9,328.8 197.7,325.3 200.6,328.8 203.4,323.6 206.2,322.3 208.9,323.6 211.9,329.6 214.7,336.5" fill="none" stroke="#111" stroke-width="1.1" stroke-linejoin="round"/>
<path d="M50.8 315.6l1.85 3.1h-3.7z" fill="#111"/>
<path d="M53.8 314.7l1.85 3.1h-3.7z" fill="#111"/>
<path d="M56.7 325.1l1.85 3.1h-3.7z" fill="#111"/>
<path d="M59.5 333.8l1.85 3.1h-3.7z" fill="#111"/>
<path d="M62.4 323.9l1.85 3.1h-3.7z" fill="#111"/>
<path d="M65.4 321.7l1.85 3.1h-3.7z" fill="#111"/>
<path d="M68.2 332.0l1.85 3.1h-3.7z" fill="#111"/>
<path d="M71.1 325.1l1.85 3.1h-3.7z" fill="#111"/>
<path d="M73.7 323.4l1.85 3.1h-3.7z" fill="#111"/>
<path d="M76.6 324.3l1.85 3.1h-3.7z" fill="#111"/>
<path d="M79.4 317.3l1.85 3.1h-3.7z" fill="#111"/>
<path d="M82.3 323.4l1.85 3.1h-3.7z" fill="#111"/>
<path d="M84.9 320.8l1.85 3.1h-3.7z" fill="#111"/>
<path d="M87.9 317.3l1.85 3.1h-3.7z" fill="#111"/>
<path d="M90.7 319.1l1.85 3.1h-3.7z" fill="#111"/>
<path d="M93.6 314.7l1.85 3.1h-3.7z" fill="#111"/>
<path d="M96.5 318.2l1.85 3.1h-3.7z" fill="#111"/>
<path d="M99.3 319.9l1.85 3.1h-3.7z" fill="#111"/>
<path d="M101.9 310.4l1.85 3.1h-3.7z" fill="#111"/>
<path d="M104.8 305.6l1.85 3.1h-3.7z" fill="#111"/>
<path d="M107.8 312.1l1.85 3.1h-3.7z" fill="#111"/>
<path d="M110.6 305.6l1.85 3.1h-3.7z" fill="#111"/>
<path d="M113.5 313.0l1.85 3.1h-3.7z" fill="#111"/>
<path d="M116.1 310.4l1.85 3.1h-3.7z" fill="#111"/>
<path d="M118.7 303.1l1.85 3.1h-3.7z" fill="#111"/>
<path d="M121.6 315.6l1.85 3.1h-3.7z" fill="#111"/>
<path d="M124.4 317.3l1.85 3.1h-3.7z" fill="#111"/>
<path d="M127.3 321.7l1.85 3.1h-3.7z" fill="#111"/>
<path d="M130.3 320.8l1.85 3.1h-3.7z" fill="#111"/>
<path d="M133.1 314.7l1.85 3.1h-3.7z" fill="#111"/>
<path d="M135.7 313.9l1.85 3.1h-3.7z" fill="#111"/>
<path d="M138.3 313.5l1.85 3.1h-3.7z" fill="#111"/>
<path d="M141.3 310.4l1.85 3.1h-3.7z" fill="#111"/>
<path d="M144.0 316.5l1.85 3.1h-3.7z" fill="#111"/>
<path d="M147.0 318.2l1.85 3.1h-3.7z" fill="#111"/>
<path d="M149.9 319.9l1.85 3.1h-3.7z" fill="#111"/>
<path d="M152.7 315.6l1.85 3.1h-3.7z" fill="#111"/>
<path d="M155.3 310.1l1.85 3.1h-3.7z" fill="#111"/>
<path d="M158.2 316.5l1.85 3.1h-3.7z" fill="#111"/>
<path d="M161.2 321.7l1.85 3.1h-3.7z" fill="#111"/>
<path d="M163.9 308.7l1.85 3.1h-3.7z" fill="#111"/>
<path d="M166.9 326.9l1.85 3.1h-3.7z" fill="#111"/>
<path d="M169.7 308.7l1.85 3.1h-3.7z" fill="#111"/>
<path d="M172.4 314.2l1.85 3.1h-3.7z" fill="#111"/>
<path d="M175.2 315.3l1.85 3.1h-3.7z" fill="#111"/>
<path d="M178.1 326.9l1.85 3.1h-3.7z" fill="#111"/>
<path d="M180.9 326.0l1.85 3.1h-3.7z" fill="#111"/>
<path d="M183.7 319.9l1.85 3.1h-3.7z" fill="#111"/>
<path d="M186.4 324.3l1.85 3.1h-3.7z" fill="#111"/>
<path d="M189.4 328.6l1.85 3.1h-3.7z" fill="#111"/>
<path d="M192.2 330.3l1.85 3.1h-3.7z" fill="#111"/>
<path d="M194.9 326.9l1.85 3.1h-3.7z" fill="#111"/>
<path d="M197.7 323.4l1.85 3.1h-3.7z" fill="#111"/>
<path d="M200.6 326.9l1.85 3.1h-3.7z" fill="#111"/>
<path d="M203.4 321.7l1.85 3.1h-3.7z" fill="#111"/>
<path d="M206.2 320.4l1.85 3.1h-3.7z" fill="#111"/>
<path d="M208.9 321.7l1.85 3.1h-3.7z" fill="#111"/>
<path d="M211.9 327.7l1.85 3.1h-3.7z" fill="#111"/>
<path d="M214.7 334.6l1.85 3.1h-3.7z" fill="#111"/>
<line x1="317.50" y1="262.50" x2="317.50" y2="378.50" stroke="#111" stroke-width="1.1"/>
<line x1="315.00" y1="378.00" x2="492.00" y2="378.00" stroke="#111" stroke-width="1.1"/>
<line x1="315.00" y1="262.50" x2="317.50" y2="262.50" stroke="#111" stroke-width="1"/>
<text x="306.90" y="265.50" font-size="8.3" text-anchor="end" font-weight="bold" >1.0</text>
<line x1="315.00" y1="285.60" x2="317.50" y2="285.60" stroke="#111" stroke-width="1"/>
<text x="306.90" y="288.60" font-size="8.3" text-anchor="end" font-weight="bold" >0.9</text>
<line x1="315.00" y1="308.70" x2="317.50" y2="308.70" stroke="#111" stroke-width="1"/>
<text x="306.90" y="311.70" font-size="8.3" text-anchor="end" font-weight="bold" >0.8</text>
<line x1="315.00" y1="331.80" x2="317.50" y2="331.80" stroke="#111" stroke-width="1"/>
<text x="306.90" y="334.80" font-size="8.3" text-anchor="end" font-weight="bold" >0.7</text>
<line x1="315.00" y1="354.90" x2="317.50" y2="354.90" stroke="#111" stroke-width="1"/>
<text x="306.90" y="357.90" font-size="8.3" text-anchor="end" font-weight="bold" >0.6</text>
<line x1="315.00" y1="378.00" x2="317.50" y2="378.00" stroke="#111" stroke-width="1"/>
<text x="306.90" y="381.00" font-size="8.3" text-anchor="end" font-weight="bold" >0.5</text>
<text x="292.20" y="299.50" font-size="8.6" text-anchor="middle" font-weight="bold" textLength="90" lengthAdjust="spacingAndGlyphs" transform="rotate(-90 292.20 299.50)" >Respiratory Quotient</text>
<text x="367.5" y="263.5" font-size="8.3" text-anchor="middle" stroke="#111" stroke-width="0.2">AF-2<tspan font-size="5.5" dy="-3">0</tspan></text>
<line x1="359.50" y1="378.00" x2="359.50" y2="386.50" stroke="#111" stroke-width="1"/>
<line x1="433.00" y1="378.00" x2="433.00" y2="386.50" stroke="#111" stroke-width="1"/>
<line x1="359.50" y1="381.50" x2="433.00" y2="381.50" stroke="#111" stroke-width="1"/>
<text x="342.50" y="388.90" font-size="8.8" text-anchor="middle" stroke="#111" stroke-width="0.15">Day</text>
<text x="400.00" y="390.50" font-size="8.8" text-anchor="middle" stroke="#111" stroke-width="0.15">Night</text>
<text x="461.00" y="388.90" font-size="8.8" text-anchor="middle" stroke="#111" stroke-width="0.15">Day</text>
<polyline points="319.2,304.9 322.0,331.7 324.9,293.7 327.7,323.1 330.4,330.9 333.4,329.1 336.2,333.5 338.9,335.2 341.9,333.5 344.6,330.9 347.4,333.5 349.1,322.2 353.1,331.7 355.9,335.2 358.8,331.7 361.6,336.1 364.4,328.3 367.3,330.0 370.1,326.5 372.8,330.9 375.8,336.1 378.6,330.9 381.3,336.1 384.3,328.3 387.0,334.3 389.8,330.9 392.8,331.7 395.5,330.0 398.3,336.9 401.2,329.1 404.0,331.7 406.6,330.9 409.5,323.9 412.5,333.5 415.2,330.9 417.3,335.2 419.9,318.8 422.8,325.7 425.6,330.0 428.6,330.0 431.2,325.7 434.1,330.9 436.9,330.0 438.4,321.3 441.5,330.9 444.1,330.9 446.4,321.7 449.3,327.4 451.9,325.7 454.9,330.9 457.1,320.8 459.7,326.5 462.3,326.5 464.9,336.9 467.5,325.2 470.4,329.1 472.7,335.2 475.6,323.9 478.4,333.5 480.5,306.6 483.1,306.6" fill="none" stroke="#111" stroke-width="0.85" stroke-linejoin="round"/>
<circle cx="319.2" cy="304.9" r="1.3" fill="#fff" stroke="#111" stroke-width="0.75"/>
<circle cx="322.0" cy="331.7" r="1.3" fill="#fff" stroke="#111" stroke-width="0.75"/>
<circle cx="324.9" cy="293.7" r="1.3" fill="#fff" stroke="#111" stroke-width="0.75"/>
<circle cx="327.7" cy="323.1" r="1.3" fill="#fff" stroke="#111" stroke-width="0.75"/>
<circle cx="330.4" cy="330.9" r="1.3" fill="#fff" stroke="#111" stroke-width="0.75"/>
<circle cx="333.4" cy="329.1" r="1.3" fill="#fff" stroke="#111" stroke-width="0.75"/>
<circle cx="336.2" cy="333.5" r="1.3" fill="#fff" stroke="#111" stroke-width="0.75"/>
<circle cx="338.9" cy="335.2" r="1.3" fill="#fff" stroke="#111" stroke-width="0.75"/>
<circle cx="341.9" cy="333.5" r="1.3" fill="#fff" stroke="#111" stroke-width="0.75"/>
<circle cx="344.6" cy="330.9" r="1.3" fill="#fff" stroke="#111" stroke-width="0.75"/>
<circle cx="347.4" cy="333.5" r="1.3" fill="#fff" stroke="#111" stroke-width="0.75"/>
<circle cx="349.1" cy="322.2" r="1.3" fill="#fff" stroke="#111" stroke-width="0.75"/>
<circle cx="353.1" cy="331.7" r="1.3" fill="#fff" stroke="#111" stroke-width="0.75"/>
<circle cx="355.9" cy="335.2" r="1.3" fill="#fff" stroke="#111" stroke-width="0.75"/>
<circle cx="358.8" cy="331.7" r="1.3" fill="#fff" stroke="#111" stroke-width="0.75"/>
<circle cx="361.6" cy="336.1" r="1.3" fill="#fff" stroke="#111" stroke-width="0.75"/>
<circle cx="364.4" cy="328.3" r="1.3" fill="#fff" stroke="#111" stroke-width="0.75"/>
<circle cx="367.3" cy="330.0" r="1.3" fill="#fff" stroke="#111" stroke-width="0.75"/>
<circle cx="370.1" cy="326.5" r="1.3" fill="#fff" stroke="#111" stroke-width="0.75"/>
<circle cx="372.8" cy="330.9" r="1.3" fill="#fff" stroke="#111" stroke-width="0.75"/>
<circle cx="375.8" cy="336.1" r="1.3" fill="#fff" stroke="#111" stroke-width="0.75"/>
<circle cx="378.6" cy="330.9" r="1.3" fill="#fff" stroke="#111" stroke-width="0.75"/>
<circle cx="381.3" cy="336.1" r="1.3" fill="#fff" stroke="#111" stroke-width="0.75"/>
<circle cx="384.3" cy="328.3" r="1.3" fill="#fff" stroke="#111" stroke-width="0.75"/>
<circle cx="387.0" cy="334.3" r="1.3" fill="#fff" stroke="#111" stroke-width="0.75"/>
<circle cx="389.8" cy="330.9" r="1.3" fill="#fff" stroke="#111" stroke-width="0.75"/>
<circle cx="392.8" cy="331.7" r="1.3" fill="#fff" stroke="#111" stroke-width="0.75"/>
<circle cx="395.5" cy="330.0" r="1.3" fill="#fff" stroke="#111" stroke-width="0.75"/>
<circle cx="398.3" cy="336.9" r="1.3" fill="#fff" stroke="#111" stroke-width="0.75"/>
<circle cx="401.2" cy="329.1" r="1.3" fill="#fff" stroke="#111" stroke-width="0.75"/>
<circle cx="404.0" cy="331.7" r="1.3" fill="#fff" stroke="#111" stroke-width="0.75"/>
<circle cx="406.6" cy="330.9" r="1.3" fill="#fff" stroke="#111" stroke-width="0.75"/>
<circle cx="409.5" cy="323.9" r="1.3" fill="#fff" stroke="#111" stroke-width="0.75"/>
<circle cx="412.5" cy="333.5" r="1.3" fill="#fff" stroke="#111" stroke-width="0.75"/>
<circle cx="415.2" cy="330.9" r="1.3" fill="#fff" stroke="#111" stroke-width="0.75"/>
<circle cx="417.3" cy="335.2" r="1.3" fill="#fff" stroke="#111" stroke-width="0.75"/>
<circle cx="419.9" cy="318.8" r="1.3" fill="#fff" stroke="#111" stroke-width="0.75"/>
<circle cx="422.8" cy="325.7" r="1.3" fill="#fff" stroke="#111" stroke-width="0.75"/>
<circle cx="425.6" cy="330.0" r="1.3" fill="#fff" stroke="#111" stroke-width="0.75"/>
<circle cx="428.6" cy="330.0" r="1.3" fill="#fff" stroke="#111" stroke-width="0.75"/>
<circle cx="431.2" cy="325.7" r="1.3" fill="#fff" stroke="#111" stroke-width="0.75"/>
<circle cx="434.1" cy="330.9" r="1.3" fill="#fff" stroke="#111" stroke-width="0.75"/>
<circle cx="436.9" cy="330.0" r="1.3" fill="#fff" stroke="#111" stroke-width="0.75"/>
<circle cx="438.4" cy="321.3" r="1.3" fill="#fff" stroke="#111" stroke-width="0.75"/>
<circle cx="441.5" cy="330.9" r="1.3" fill="#fff" stroke="#111" stroke-width="0.75"/>
<circle cx="444.1" cy="330.9" r="1.3" fill="#fff" stroke="#111" stroke-width="0.75"/>
<circle cx="446.4" cy="321.7" r="1.3" fill="#fff" stroke="#111" stroke-width="0.75"/>
<circle cx="449.3" cy="327.4" r="1.3" fill="#fff" stroke="#111" stroke-width="0.75"/>
<circle cx="451.9" cy="325.7" r="1.3" fill="#fff" stroke="#111" stroke-width="0.75"/>
<circle cx="454.9" cy="330.9" r="1.3" fill="#fff" stroke="#111" stroke-width="0.75"/>
<circle cx="457.1" cy="320.8" r="1.3" fill="#fff" stroke="#111" stroke-width="0.75"/>
<circle cx="459.7" cy="326.5" r="1.3" fill="#fff" stroke="#111" stroke-width="0.75"/>
<circle cx="462.3" cy="326.5" r="1.3" fill="#fff" stroke="#111" stroke-width="0.75"/>
<circle cx="464.9" cy="336.9" r="1.3" fill="#fff" stroke="#111" stroke-width="0.75"/>
<circle cx="467.5" cy="325.2" r="1.3" fill="#fff" stroke="#111" stroke-width="0.75"/>
<circle cx="470.4" cy="329.1" r="1.3" fill="#fff" stroke="#111" stroke-width="0.75"/>
<circle cx="472.7" cy="335.2" r="1.3" fill="#fff" stroke="#111" stroke-width="0.75"/>
<circle cx="475.6" cy="323.9" r="1.3" fill="#fff" stroke="#111" stroke-width="0.75"/>
<circle cx="478.4" cy="333.5" r="1.3" fill="#fff" stroke="#111" stroke-width="0.75"/>
<circle cx="480.5" cy="306.6" r="1.3" fill="#fff" stroke="#111" stroke-width="0.75"/>
<circle cx="483.1" cy="306.6" r="1.3" fill="#fff" stroke="#111" stroke-width="0.75"/>
<polyline points="319.2,302.3 322.0,336.1 324.9,326.5 327.7,336.9 330.4,330.0 333.4,329.1 336.2,331.7 338.9,335.2 341.9,331.7 343.2,326.5 346.0,336.9 350.3,330.9 353.1,335.2 355.9,331.7 358.8,330.0 361.6,337.8 364.4,327.4 367.3,326.5 370.1,327.4 372.8,330.0 375.8,330.9 378.6,330.9 381.3,329.1 384.3,328.3 388.4,325.7 389.8,330.9 393.6,334.3 396.6,325.7 398.3,337.8 401.2,327.4 404.0,325.7 406.6,331.7 409.5,329.1 412.5,336.1 415.2,331.7 417.3,333.5 419.9,330.0 422.8,324.8 425.6,331.7 428.6,331.7 431.2,327.4 434.1,330.9 436.9,334.3 439.8,328.3 442.4,334.3 445.3,328.3 448.1,327.4 450.7,334.3 453.7,328.3 456.2,334.3 458.8,325.7 461.8,330.9 464.9,331.7 467.5,327.4 470.4,338.7 472.7,332.6 475.6,319.6 478.4,315.3" fill="none" stroke="#111" stroke-width="1.1" stroke-linejoin="round"/>
<path d="M319.2 300.4l1.85 3.1h-3.7z" fill="#111"/>
<path d="M322.0 334.2l1.85 3.1h-3.7z" fill="#111"/>
<path d="M324.9 324.6l1.85 3.1h-3.7z" fill="#111"/>
<path d="M327.7 335.0l1.85 3.1h-3.7z" fill="#111"/>
<path d="M330.4 328.1l1.85 3.1h-3.7z" fill="#111"/>
<path d="M333.4 327.2l1.85 3.1h-3.7z" fill="#111"/>
<path d="M336.2 329.8l1.85 3.1h-3.7z" fill="#111"/>
<path d="M338.9 333.3l1.85 3.1h-3.7z" fill="#111"/>
<path d="M341.9 329.8l1.85 3.1h-3.7z" fill="#111"/>
<path d="M343.2 324.6l1.85 3.1h-3.7z" fill="#111"/>
<path d="M346.0 335.0l1.85 3.1h-3.7z" fill="#111"/>
<path d="M350.3 329.0l1.85 3.1h-3.7z" fill="#111"/>
<path d="M353.1 333.3l1.85 3.1h-3.7z" fill="#111"/>
<path d="M355.9 329.8l1.85 3.1h-3.7z" fill="#111"/>
<path d="M358.8 328.1l1.85 3.1h-3.7z" fill="#111"/>
<path d="M361.6 335.9l1.85 3.1h-3.7z" fill="#111"/>
<path d="M364.4 325.5l1.85 3.1h-3.7z" fill="#111"/>
<path d="M367.3 324.6l1.85 3.1h-3.7z" fill="#111"/>
<path d="M370.1 325.5l1.85 3.1h-3.7z" fill="#111"/>
<path d="M372.8 328.1l1.85 3.1h-3.7z" fill="#111"/>
<path d="M375.8 329.0l1.85 3.1h-3.7z" fill="#111"/>
<path d="M378.6 329.0l1.85 3.1h-3.7z" fill="#111"/>
<path d="M381.3 327.2l1.85 3.1h-3.7z" fill="#111"/>
<path d="M384.3 326.4l1.85 3.1h-3.7z" fill="#111"/>
<path d="M388.4 323.8l1.85 3.1h-3.7z" fill="#111"/>
<path d="M389.8 329.0l1.85 3.1h-3.7z" fill="#111"/>
<path d="M393.6 332.4l1.85 3.1h-3.7z" fill="#111"/>
<path d="M396.6 323.8l1.85 3.1h-3.7z" fill="#111"/>
<path d="M398.3 335.9l1.85 3.1h-3.7z" fill="#111"/>
<path d="M401.2 325.5l1.85 3.1h-3.7z" fill="#111"/>
<path d="M404.0 323.8l1.85 3.1h-3.7z" fill="#111"/>
<path d="M406.6 329.8l1.85 3.1h-3.7z" fill="#111"/>
<path d="M409.5 327.2l1.85 3.1h-3.7z" fill="#111"/>
<path d="M412.5 334.2l1.85 3.1h-3.7z" fill="#111"/>
<path d="M415.2 329.8l1.85 3.1h-3.7z" fill="#111"/>
<path d="M417.3 331.6l1.85 3.1h-3.7z" fill="#111"/>
<path d="M419.9 328.1l1.85 3.1h-3.7z" fill="#111"/>
<path d="M422.8 322.9l1.85 3.1h-3.7z" fill="#111"/>
<path d="M425.6 329.8l1.85 3.1h-3.7z" fill="#111"/>
<path d="M428.6 329.8l1.85 3.1h-3.7z" fill="#111"/>
<path d="M431.2 325.5l1.85 3.1h-3.7z" fill="#111"/>
<path d="M434.1 329.0l1.85 3.1h-3.7z" fill="#111"/>
<path d="M436.9 332.4l1.85 3.1h-3.7z" fill="#111"/>
<path d="M439.8 326.4l1.85 3.1h-3.7z" fill="#111"/>
<path d="M442.4 332.4l1.85 3.1h-3.7z" fill="#111"/>
<path d="M445.3 326.4l1.85 3.1h-3.7z" fill="#111"/>
<path d="M448.1 325.5l1.85 3.1h-3.7z" fill="#111"/>
<path d="M450.7 332.4l1.85 3.1h-3.7z" fill="#111"/>
<path d="M453.7 326.4l1.85 3.1h-3.7z" fill="#111"/>
<path d="M456.2 332.4l1.85 3.1h-3.7z" fill="#111"/>
<path d="M458.8 323.8l1.85 3.1h-3.7z" fill="#111"/>
<path d="M461.8 329.0l1.85 3.1h-3.7z" fill="#111"/>
<path d="M464.9 329.8l1.85 3.1h-3.7z" fill="#111"/>
<path d="M467.5 325.5l1.85 3.1h-3.7z" fill="#111"/>
<path d="M470.4 336.8l1.85 3.1h-3.7z" fill="#111"/>
<path d="M472.7 330.7l1.85 3.1h-3.7z" fill="#111"/>
<path d="M475.6 317.7l1.85 3.1h-3.7z" fill="#111"/>
<path d="M478.4 313.4l1.85 3.1h-3.7z" fill="#111"/>
</g>
<g id="legend">
<rect x="402" y="-1" width="96" height="34" fill="#fff" stroke="#111" stroke-width="1.2"/>
<rect x="420" y="7" width="10.5" height="5.5" fill="#fff" stroke="#111" stroke-width="0.9"/>
<rect x="420" y="20" width="10.5" height="6" fill="#111" stroke="#111" stroke-width="0.9"/>
<text x="451.70" y="11.20" font-size="7" text-anchor="middle" font-weight="bold" stroke="#111" stroke-width="0.25">ovx</text>
<text x="451.00" y="25.20" font-size="7" text-anchor="middle" font-weight="bold" stroke="#111" stroke-width="0.25">ovx+E2</text>
<line x1="471.50" y1="9.50" x2="489.00" y2="9.50" stroke="#111" stroke-width="0.9"/>
<circle cx="480.3" cy="9.5" r="3.2" fill="#fff" stroke="#111" stroke-width="0.9"/>
<line x1="471.50" y1="22.50" x2="489.00" y2="22.50" stroke="#111" stroke-width="0.9"/>
<path d="M480.2 19.2l3.5 5.4h-7z" fill="#111"/>
</g>
<g id="B">
<text x="-0.30" y="421.20" font-size="14.5" text-anchor="start" font-weight="bold" stroke="#111" stroke-width="0.6">B</text>
<text x="33.80" y="420.60" font-size="9" text-anchor="start" font-weight="bold" textLength="109" lengthAdjust="spacingAndGlyphs" stroke="#111" stroke-width="0.3">Mean respiratory quotient</text>
<line x1="25.00" y1="434.50" x2="25.00" y2="508.00" stroke="#111" stroke-width="1.2"/>
<line x1="22.00" y1="507.50" x2="108.00" y2="507.50" stroke="#111" stroke-width="1.2"/>
<line x1="21.80" y1="435.00" x2="25.00" y2="435.00" stroke="#111" stroke-width="1"/>
<text x="19.00" y="437.40" font-size="6.6" text-anchor="end" font-weight="bold" >0.9</text>
<line x1="21.80" y1="459.25" x2="25.00" y2="459.25" stroke="#111" stroke-width="1"/>
<text x="19.00" y="461.65" font-size="6.6" text-anchor="end" font-weight="bold" >0.8</text>
<line x1="21.80" y1="483.25" x2="25.00" y2="483.25" stroke="#111" stroke-width="1"/>
<text x="19.00" y="485.65" font-size="6.6" text-anchor="end" font-weight="bold" >0.7</text>
<text x="6.35" y="464.00" font-size="7.5" text-anchor="middle" textLength="69" lengthAdjust="spacingAndGlyphs" transform="rotate(-90 6.35 464.00)" >Respiratory Quotient</text>
<text x="78.0" y="438.3" font-size="6.3" font-weight="bold" text-anchor="middle">wt</text>
<line x1="39.65" y1="478.80" x2="39.65" y2="481.80" stroke="#111" stroke-width="1"/>
<line x1="36.25" y1="478.80" x2="43.05" y2="478.80" stroke="#111" stroke-width="1"/>
<rect x="34.30" y="481.80" width="10.70" height="25.70" fill="#fff" stroke="#111" stroke-width="1"/>
<line x1="55.25" y1="471.20" x2="55.25" y2="475.80" stroke="#111" stroke-width="1"/>
<line x1="51.85" y1="471.20" x2="58.65" y2="471.20" stroke="#111" stroke-width="1"/>
<rect x="49.30" y="475.80" width="11.90" height="31.70" fill="#111" stroke="#111" stroke-width="1"/>
<line x1="83.15" y1="475.80" x2="83.15" y2="478.80" stroke="#111" stroke-width="1"/>
<line x1="79.75" y1="475.80" x2="86.55" y2="475.80" stroke="#111" stroke-width="1"/>
<rect x="77.50" y="478.80" width="11.30" height="28.70" fill="#fff" stroke="#111" stroke-width="1"/>
<line x1="99.00" y1="462.50" x2="99.00" y2="464.30" stroke="#111" stroke-width="1"/>
<line x1="95.60" y1="462.50" x2="102.40" y2="462.50" stroke="#111" stroke-width="1"/>
<rect x="93.00" y="464.30" width="12.00" height="43.20" fill="#111" stroke="#111" stroke-width="1"/>
<text x="44.50" y="523.10" font-size="7.3" text-anchor="middle" font-weight="bold" >Day</text>
<text x="86.00" y="523.10" font-size="7.3" text-anchor="middle" font-weight="bold" >Night</text>
<line x1="168.00" y1="434.50" x2="168.00" y2="508.00" stroke="#111" stroke-width="1.2"/>
<line x1="165.00" y1="507.50" x2="249.50" y2="507.50" stroke="#111" stroke-width="1.2"/>
<line x1="164.80" y1="435.00" x2="168.00" y2="435.00" stroke="#111" stroke-width="1"/>
<text x="162.00" y="437.40" font-size="6.6" text-anchor="end" font-weight="bold" >0.9</text>
<line x1="164.80" y1="459.25" x2="168.00" y2="459.25" stroke="#111" stroke-width="1"/>
<text x="162.00" y="461.65" font-size="6.6" text-anchor="end" font-weight="bold" >0.8</text>
<line x1="164.80" y1="483.25" x2="168.00" y2="483.25" stroke="#111" stroke-width="1"/>
<text x="162.00" y="485.65" font-size="6.6" text-anchor="end" font-weight="bold" >0.7</text>
<text x="148.85" y="464.50" font-size="7.5" text-anchor="middle" textLength="69" lengthAdjust="spacingAndGlyphs" transform="rotate(-90 148.85 464.50)" >Respiratory Quotient</text>
<text x="206.0" y="438.8" font-size="6.3" font-weight="bold" text-anchor="middle">ERα<tspan font-size="5" dy="-2.4">-/-</tspan></text>
<line x1="181.90" y1="483.00" x2="181.90" y2="487.00" stroke="#111" stroke-width="1"/>
<line x1="178.50" y1="483.00" x2="185.30" y2="483.00" stroke="#111" stroke-width="1"/>
<rect x="175.80" y="487.00" width="12.20" height="20.50" fill="#fff" stroke="#111" stroke-width="1"/>
<line x1="197.90" y1="485.50" x2="197.90" y2="487.50" stroke="#111" stroke-width="1"/>
<line x1="194.50" y1="485.50" x2="201.30" y2="485.50" stroke="#111" stroke-width="1"/>
<rect x="192.00" y="487.50" width="11.80" height="20.00" fill="#111" stroke="#111" stroke-width="1"/>
<line x1="225.60" y1="476.80" x2="225.60" y2="484.50" stroke="#111" stroke-width="1"/>
<line x1="222.20" y1="476.80" x2="229.00" y2="476.80" stroke="#111" stroke-width="1"/>
<rect x="220.00" y="484.50" width="11.20" height="23.00" fill="#fff" stroke="#111" stroke-width="1"/>
<line x1="241.50" y1="480.50" x2="241.50" y2="483.00" stroke="#111" stroke-width="1"/>
<line x1="238.10" y1="480.50" x2="244.90" y2="480.50" stroke="#111" stroke-width="1"/>
<rect x="235.50" y="483.00" width="12.00" height="24.50" fill="#111" stroke="#111" stroke-width="1"/>
<text x="186.20" y="522.60" font-size="7.3" text-anchor="middle" font-weight="bold" >Day</text>
<text x="229.20" y="522.60" font-size="7.3" text-anchor="middle" font-weight="bold" >Night</text>
<line x1="28.25" y1="533.25" x2="28.25" y2="606.25" stroke="#111" stroke-width="1.2"/>
<line x1="25.25" y1="605.75" x2="115.50" y2="605.75" stroke="#111" stroke-width="1.2"/>
<line x1="25.05" y1="533.75" x2="28.25" y2="533.75" stroke="#111" stroke-width="1"/>
<text x="22.25" y="536.15" font-size="7.6" text-anchor="end" font-weight="bold" >0.9</text>
<line x1="25.05" y1="557.50" x2="28.25" y2="557.50" stroke="#111" stroke-width="1"/>
<text x="22.25" y="559.90" font-size="7.6" text-anchor="end" font-weight="bold" >0.8</text>
<line x1="25.05" y1="581.75" x2="28.25" y2="581.75" stroke="#111" stroke-width="1"/>
<text x="22.25" y="584.15" font-size="7.6" text-anchor="end" font-weight="bold" >0.7</text>
<text x="8.85" y="565.00" font-size="7.5" text-anchor="middle" textLength="70" lengthAdjust="spacingAndGlyphs" transform="rotate(-90 8.85 565.00)" >Respiratory Quotient</text>
<text x="78.8" y="537.8" font-size="6.3" font-weight="bold" text-anchor="middle">AF-1<tspan font-size="4.6" dy="-2.3">0</tspan></text>
<line x1="41.90" y1="582.50" x2="41.90" y2="584.50" stroke="#111" stroke-width="1"/>
<line x1="38.50" y1="582.50" x2="45.30" y2="582.50" stroke="#111" stroke-width="1"/>
<rect x="36.30" y="584.50" width="11.20" height="21.25" fill="#fff" stroke="#111" stroke-width="1"/>
<line x1="57.90" y1="570.50" x2="57.90" y2="573.30" stroke="#111" stroke-width="1"/>
<line x1="54.50" y1="570.50" x2="61.30" y2="570.50" stroke="#111" stroke-width="1"/>
<rect x="52.00" y="573.30" width="11.80" height="32.45" fill="#111" stroke="#111" stroke-width="1"/>
<line x1="85.60" y1="582.50" x2="85.60" y2="584.30" stroke="#111" stroke-width="1"/>
<line x1="82.20" y1="582.50" x2="89.00" y2="582.50" stroke="#111" stroke-width="1"/>
<rect x="80.00" y="584.30" width="11.20" height="21.45" fill="#fff" stroke="#111" stroke-width="1"/>
<line x1="101.65" y1="563.00" x2="101.65" y2="566.80" stroke="#111" stroke-width="1"/>
<line x1="98.25" y1="563.00" x2="105.05" y2="563.00" stroke="#111" stroke-width="1"/>
<rect x="95.80" y="566.80" width="11.70" height="38.95" fill="#111" stroke="#111" stroke-width="1"/>
<text x="46.20" y="620.10" font-size="7.3" text-anchor="middle" font-weight="bold" >Day</text>
<text x="89.20" y="620.10" font-size="7.3" text-anchor="middle" font-weight="bold" >Night</text>
<line x1="168.00" y1="533.25" x2="168.00" y2="606.25" stroke="#111" stroke-width="1.2"/>
<line x1="165.00" y1="605.75" x2="255.00" y2="605.75" stroke="#111" stroke-width="1.2"/>
<line x1="164.80" y1="533.75" x2="168.00" y2="533.75" stroke="#111" stroke-width="1"/>
<text x="162.00" y="536.15" font-size="6.6" text-anchor="end" font-weight="bold" >0.9</text>
<line x1="164.80" y1="557.50" x2="168.00" y2="557.50" stroke="#111" stroke-width="1"/>
<text x="162.00" y="559.90" font-size="6.6" text-anchor="end" font-weight="bold" >0.8</text>
<line x1="164.80" y1="581.75" x2="168.00" y2="581.75" stroke="#111" stroke-width="1"/>
<text x="162.00" y="584.15" font-size="6.6" text-anchor="end" font-weight="bold" >0.7</text>
<text x="150.10" y="565.50" font-size="7.5" text-anchor="middle" textLength="69" lengthAdjust="spacingAndGlyphs" transform="rotate(-90 150.10 565.50)" >Respiratory Quotient</text>
<text x="206.2" y="537.8" font-size="6.3" font-weight="bold" text-anchor="middle">AF-2<tspan font-size="4.6" dy="-2.3">0</tspan></text>
<line x1="181.40" y1="575.00" x2="181.40" y2="576.80" stroke="#111" stroke-width="1"/>
<line x1="178.00" y1="575.00" x2="184.80" y2="575.00" stroke="#111" stroke-width="1"/>
<rect x="175.80" y="576.80" width="11.20" height="28.95" fill="#fff" stroke="#111" stroke-width="1"/>
<line x1="197.60" y1="568.80" x2="197.60" y2="571.80" stroke="#111" stroke-width="1"/>
<line x1="194.20" y1="568.80" x2="201.00" y2="568.80" stroke="#111" stroke-width="1"/>
<rect x="192.00" y="571.80" width="11.20" height="33.95" fill="#111" stroke="#111" stroke-width="1"/>
<line x1="225.60" y1="571.80" x2="225.60" y2="575.50" stroke="#111" stroke-width="1"/>
<line x1="222.20" y1="571.80" x2="229.00" y2="571.80" stroke="#111" stroke-width="1"/>
<rect x="220.00" y="575.50" width="11.20" height="30.25" fill="#fff" stroke="#111" stroke-width="1"/>
<line x1="241.40" y1="573.30" x2="241.40" y2="580.00" stroke="#111" stroke-width="1"/>
<line x1="238.00" y1="573.30" x2="244.80" y2="573.30" stroke="#111" stroke-width="1"/>
<rect x="235.80" y="580.00" width="11.20" height="25.75" fill="#111" stroke="#111" stroke-width="1"/>
<text x="186.20" y="620.10" font-size="7.3" text-anchor="middle" font-weight="bold" >Day</text>
<text x="228.80" y="620.10" font-size="7.3" text-anchor="middle" font-weight="bold" >Night</text>
</g>
<g id="C">
<text x="273.30" y="421.90" font-size="15.6" text-anchor="start" font-weight="bold" stroke="#111" stroke-width="0.6">C</text>
<text x="348.80" y="420.20" font-size="9" text-anchor="start" font-weight="bold" textLength="56" lengthAdjust="spacingAndGlyphs" stroke="#111" stroke-width="0.3">Mean activity</text>
<line x1="303.00" y1="434.00" x2="303.00" y2="506.75" stroke="#111" stroke-width="1.2"/>
<line x1="300.00" y1="506.25" x2="392.50" y2="506.25" stroke="#111" stroke-width="1.2"/>
<line x1="299.80" y1="434.50" x2="303.00" y2="434.50" stroke="#111" stroke-width="1"/>
<text x="298.20" y="436.90" font-size="6.6" text-anchor="end" font-weight="bold" >250</text>
<line x1="299.80" y1="448.75" x2="303.00" y2="448.75" stroke="#111" stroke-width="1"/>
<text x="298.20" y="451.15" font-size="6.6" text-anchor="end" font-weight="bold" >200</text>
<line x1="299.80" y1="463.00" x2="303.00" y2="463.00" stroke="#111" stroke-width="1"/>
<text x="298.20" y="465.40" font-size="6.6" text-anchor="end" font-weight="bold" >150</text>
<line x1="299.80" y1="477.50" x2="303.00" y2="477.50" stroke="#111" stroke-width="1"/>
<text x="298.20" y="479.90" font-size="6.6" text-anchor="end" font-weight="bold" >100</text>
<line x1="299.80" y1="492.00" x2="303.00" y2="492.00" stroke="#111" stroke-width="1"/>
<text x="298.20" y="494.40" font-size="6.6" text-anchor="end" font-weight="bold" >50</text>
<text x="280.75" y="479.50" font-size="7" text-anchor="middle" font-weight="bold" textLength="44" lengthAdjust="spacingAndGlyphs" transform="rotate(-90 280.75 479.50)" >index per day</text>
<text x="343.8" y="437.8" font-size="6.3" font-weight="bold" text-anchor="middle">wt</text>
<line x1="317.60" y1="472.00" x2="317.60" y2="477.50" stroke="#111" stroke-width="1"/>
<line x1="314.20" y1="472.00" x2="321.00" y2="472.00" stroke="#111" stroke-width="1"/>
<rect x="312.00" y="477.50" width="11.20" height="28.75" fill="#fff" stroke="#111" stroke-width="1"/>
<line x1="333.75" y1="457.50" x2="333.75" y2="464.50" stroke="#111" stroke-width="1"/>
<line x1="330.35" y1="457.50" x2="337.15" y2="457.50" stroke="#111" stroke-width="1"/>
<rect x="328.00" y="464.50" width="11.50" height="41.75" fill="#111" stroke="#111" stroke-width="1"/>
<line x1="361.15" y1="475.00" x2="361.15" y2="477.50" stroke="#111" stroke-width="1"/>
<line x1="357.75" y1="475.00" x2="364.55" y2="475.00" stroke="#111" stroke-width="1"/>
<rect x="355.50" y="477.50" width="11.30" height="28.75" fill="#fff" stroke="#111" stroke-width="1"/>
<line x1="377.10" y1="444.20" x2="377.10" y2="451.20" stroke="#111" stroke-width="1"/>
<line x1="373.70" y1="444.20" x2="380.50" y2="444.20" stroke="#111" stroke-width="1"/>
<rect x="371.20" y="451.20" width="11.80" height="55.05" fill="#111" stroke="#111" stroke-width="1"/>
<text x="322.50" y="521.40" font-size="7.3" text-anchor="middle" font-weight="bold" >Day</text>
<text x="365.00" y="521.40" font-size="7.3" text-anchor="middle" font-weight="bold" >Night</text>
<line x1="431.25" y1="434.00" x2="431.25" y2="506.75" stroke="#111" stroke-width="1.2"/>
<line x1="428.25" y1="506.25" x2="521.00" y2="506.25" stroke="#111" stroke-width="1.2"/>
<line x1="428.05" y1="434.50" x2="431.25" y2="434.50" stroke="#111" stroke-width="1"/>
<text x="426.45" y="436.90" font-size="6.6" text-anchor="end" font-weight="bold" >250</text>
<line x1="428.05" y1="448.75" x2="431.25" y2="448.75" stroke="#111" stroke-width="1"/>
<text x="426.45" y="451.15" font-size="6.6" text-anchor="end" font-weight="bold" >200</text>
<line x1="428.05" y1="463.00" x2="431.25" y2="463.00" stroke="#111" stroke-width="1"/>
<text x="426.45" y="465.40" font-size="6.6" text-anchor="end" font-weight="bold" >150</text>
<line x1="428.05" y1="477.50" x2="431.25" y2="477.50" stroke="#111" stroke-width="1"/>
<text x="426.45" y="479.90" font-size="6.6" text-anchor="end" font-weight="bold" >100</text>
<line x1="428.05" y1="492.00" x2="431.25" y2="492.00" stroke="#111" stroke-width="1"/>
<text x="426.45" y="494.40" font-size="6.6" text-anchor="end" font-weight="bold" >50</text>
<text x="408.25" y="479.50" font-size="7" text-anchor="middle" font-weight="bold" textLength="44" lengthAdjust="spacingAndGlyphs" transform="rotate(-90 408.25 479.50)" >index per day</text>
<text x="472.5" y="438.3" font-size="6.3" font-weight="bold" text-anchor="middle">ERα<tspan font-size="5" dy="-2.4">-/-</tspan></text>
<line x1="445.15" y1="491.80" x2="445.15" y2="495.00" stroke="#111" stroke-width="1"/>
<line x1="441.75" y1="491.80" x2="448.55" y2="491.80" stroke="#111" stroke-width="1"/>
<rect x="439.50" y="495.00" width="11.30" height="11.25" fill="#fff" stroke="#111" stroke-width="1"/>
<line x1="461.25" y1="496.20" x2="461.25" y2="497.00" stroke="#111" stroke-width="1"/>
<line x1="457.85" y1="496.20" x2="464.65" y2="496.20" stroke="#111" stroke-width="1"/>
<rect x="455.50" y="497.00" width="11.50" height="9.25" fill="#111" stroke="#111" stroke-width="1"/>
<line x1="488.75" y1="480.50" x2="488.75" y2="481.20" stroke="#111" stroke-width="1"/>
<line x1="485.35" y1="480.50" x2="492.15" y2="480.50" stroke="#111" stroke-width="1"/>
<rect x="483.00" y="481.20" width="11.50" height="25.05" fill="#fff" stroke="#111" stroke-width="1"/>
<line x1="505.00" y1="480.50" x2="505.00" y2="485.00" stroke="#111" stroke-width="1"/>
<line x1="501.60" y1="480.50" x2="508.40" y2="480.50" stroke="#111" stroke-width="1"/>
<rect x="499.20" y="485.00" width="11.60" height="21.25" fill="#111" stroke="#111" stroke-width="1"/>
<text x="450.00" y="521.40" font-size="7.3" text-anchor="middle" font-weight="bold" >Day</text>
<text x="492.00" y="521.40" font-size="7.3" text-anchor="middle" font-weight="bold" >Night</text>
<line x1="303.75" y1="532.00" x2="303.75" y2="605.50" stroke="#111" stroke-width="1.2"/>
<line x1="300.75" y1="605.00" x2="393.75" y2="605.00" stroke="#111" stroke-width="1.2"/>
<line x1="300.55" y1="532.50" x2="303.75" y2="532.50" stroke="#111" stroke-width="1"/>
<text x="298.15" y="534.90" font-size="7.4" text-anchor="end" font-weight="bold" >250</text>
<line x1="300.55" y1="547.00" x2="303.75" y2="547.00" stroke="#111" stroke-width="1"/>
<text x="298.15" y="549.40" font-size="7.4" text-anchor="end" font-weight="bold" >200</text>
<line x1="300.55" y1="561.75" x2="303.75" y2="561.75" stroke="#111" stroke-width="1"/>
<text x="298.15" y="564.15" font-size="7.4" text-anchor="end" font-weight="bold" >150</text>
<line x1="300.55" y1="576.25" x2="303.75" y2="576.25" stroke="#111" stroke-width="1"/>
<text x="298.15" y="578.65" font-size="7.4" text-anchor="end" font-weight="bold" >100</text>
<line x1="300.55" y1="590.75" x2="303.75" y2="590.75" stroke="#111" stroke-width="1"/>
<text x="298.15" y="593.15" font-size="7.4" text-anchor="end" font-weight="bold" >50</text>
<text x="280.00" y="578.00" font-size="7" text-anchor="middle" font-weight="bold" textLength="44" lengthAdjust="spacingAndGlyphs" transform="rotate(-90 280.00 578.00)" >index per day</text>
<text x="345.0" y="537.3" font-size="6.3" font-weight="bold" text-anchor="middle">AF-1<tspan font-size="4.6" dy="-2.3">0</tspan></text>
<line x1="317.60" y1="570.50" x2="317.60" y2="576.20" stroke="#111" stroke-width="1"/>
<line x1="314.20" y1="570.50" x2="321.00" y2="570.50" stroke="#111" stroke-width="1"/>
<rect x="312.00" y="576.20" width="11.20" height="28.80" fill="#fff" stroke="#111" stroke-width="1"/>
<line x1="333.75" y1="580.00" x2="333.75" y2="582.50" stroke="#111" stroke-width="1"/>
<line x1="330.35" y1="580.00" x2="337.15" y2="580.00" stroke="#111" stroke-width="1"/>
<rect x="328.00" y="582.50" width="11.50" height="22.50" fill="#111" stroke="#111" stroke-width="1"/>
<line x1="361.15" y1="568.20" x2="361.15" y2="570.50" stroke="#111" stroke-width="1"/>
<line x1="357.75" y1="568.20" x2="364.55" y2="568.20" stroke="#111" stroke-width="1"/>
<rect x="355.50" y="570.50" width="11.30" height="34.50" fill="#fff" stroke="#111" stroke-width="1"/>
<line x1="377.50" y1="548.80" x2="377.50" y2="551.80" stroke="#111" stroke-width="1"/>
<line x1="374.10" y1="548.80" x2="380.90" y2="548.80" stroke="#111" stroke-width="1"/>
<rect x="371.80" y="551.80" width="11.40" height="53.20" fill="#111" stroke="#111" stroke-width="1"/>
<text x="322.00" y="619.60" font-size="7.3" text-anchor="middle" font-weight="bold" >Day</text>
<text x="365.00" y="619.60" font-size="7.3" text-anchor="middle" font-weight="bold" >Night</text>
<text x="377.50" y="544.50" font-size="8" text-anchor="middle" font-weight="bold" >*</text>
<line x1="432.00" y1="532.00" x2="432.00" y2="605.50" stroke="#111" stroke-width="1.2"/>
<line x1="429.00" y1="605.00" x2="521.00" y2="605.00" stroke="#111" stroke-width="1.2"/>
<line x1="428.80" y1="532.50" x2="432.00" y2="532.50" stroke="#111" stroke-width="1"/>
<text x="426.40" y="534.90" font-size="7.2" text-anchor="end" font-weight="bold" >250</text>
<line x1="428.80" y1="547.00" x2="432.00" y2="547.00" stroke="#111" stroke-width="1"/>
<text x="426.40" y="549.40" font-size="7.2" text-anchor="end" font-weight="bold" >200</text>
<line x1="428.80" y1="561.75" x2="432.00" y2="561.75" stroke="#111" stroke-width="1"/>
<text x="426.40" y="564.15" font-size="7.2" text-anchor="end" font-weight="bold" >150</text>
<line x1="428.80" y1="576.25" x2="432.00" y2="576.25" stroke="#111" stroke-width="1"/>
<text x="426.40" y="578.65" font-size="7.2" text-anchor="end" font-weight="bold" >100</text>
<line x1="428.80" y1="590.75" x2="432.00" y2="590.75" stroke="#111" stroke-width="1"/>
<text x="426.40" y="593.15" font-size="7.2" text-anchor="end" font-weight="bold" >50</text>
<text x="408.25" y="578.00" font-size="7" text-anchor="middle" font-weight="bold" textLength="44" lengthAdjust="spacingAndGlyphs" transform="rotate(-90 408.25 578.00)" >index per day</text>
<text x="472.5" y="537.3" font-size="6.3" font-weight="bold" text-anchor="middle">AF-2<tspan font-size="4.6" dy="-2.3">0</tspan></text>
<line x1="445.90" y1="582.00" x2="445.90" y2="585.80" stroke="#111" stroke-width="1"/>
<line x1="442.50" y1="582.00" x2="449.30" y2="582.00" stroke="#111" stroke-width="1"/>
<rect x="440.00" y="585.80" width="11.80" height="19.20" fill="#fff" stroke="#111" stroke-width="1"/>
<line x1="462.10" y1="578.00" x2="462.10" y2="578.80" stroke="#111" stroke-width="1"/>
<line x1="458.70" y1="578.00" x2="465.50" y2="578.00" stroke="#111" stroke-width="1"/>
<rect x="456.20" y="578.80" width="11.80" height="26.20" fill="#111" stroke="#111" stroke-width="1"/>
<line x1="489.40" y1="561.80" x2="489.40" y2="566.20" stroke="#111" stroke-width="1"/>
<line x1="486.00" y1="561.80" x2="492.80" y2="561.80" stroke="#111" stroke-width="1"/>
<rect x="483.80" y="566.20" width="11.20" height="38.80" fill="#fff" stroke="#111" stroke-width="1"/>
<line x1="505.90" y1="568.80" x2="505.90" y2="571.80" stroke="#111" stroke-width="1"/>
<line x1="502.50" y1="568.80" x2="509.30" y2="568.80" stroke="#111" stroke-width="1"/>
<rect x="500.00" y="571.80" width="11.80" height="33.20" fill="#111" stroke="#111" stroke-width="1"/>
<text x="450.00" y="619.60" font-size="7.3" text-anchor="middle" font-weight="bold" >Day</text>
<text x="492.50" y="619.60" font-size="7.3" text-anchor="middle" font-weight="bold" >Night</text>
</g>
<g id="tables">
<rect x="41.80" y="632.30" width="198.30" height="60.30" fill="#fff" stroke="#111" stroke-width="1.1"/>
<line x1="41.80" y1="646.70" x2="240.10" y2="646.70" stroke="#111" stroke-width="1.1"/>
<line x1="90.90" y1="632.30" x2="90.90" y2="692.60" stroke="#111" stroke-width="1"/>
<line x1="141.00" y1="632.30" x2="141.00" y2="692.60" stroke="#111" stroke-width="1"/>
<line x1="190.60" y1="632.30" x2="190.60" y2="692.60" stroke="#111" stroke-width="1"/>
<line x1="41.80" y1="657.70" x2="90.90" y2="657.70" stroke="#111" stroke-width="1.1"/>
<line x1="41.80" y1="669.40" x2="90.90" y2="669.40" stroke="#111" stroke-width="1.1"/>
<line x1="41.80" y1="681.00" x2="90.90" y2="681.00" stroke="#111" stroke-width="1.1"/>
<text x="66.65" y="642.20" font-size="5.6" text-anchor="middle" font-weight="bold" textLength="44.3" lengthAdjust="spacingAndGlyphs" >Two-way Anova</text>
<text x="100.90" y="644.2" font-size="10" font-weight="bold" text-anchor="start"><tspan textLength="5.3" lengthAdjust="spacingAndGlyphs" stroke="#111" stroke-width="0.45" font-size="10.4">P</tspan><tspan font-size="6.4" dy="-4.8" dx="0.9" stroke="#111" stroke-width="0.15" textLength="24.3" lengthAdjust="spacingAndGlyphs">interat*</tspan></text>
<text x="159.50" y="644.2" font-size="10" font-weight="bold" text-anchor="start"><tspan textLength="5.3" lengthAdjust="spacingAndGlyphs" stroke="#111" stroke-width="0.45" font-size="10.4">P</tspan><tspan font-size="6.4" dy="-4.8" dx="0.9" stroke="#111" stroke-width="0.15" textLength="6.8" lengthAdjust="spacingAndGlyphs">E2</tspan></text>
<text x="200.30" y="644.2" font-size="10" font-weight="bold" text-anchor="start"><tspan textLength="5.3" lengthAdjust="spacingAndGlyphs" stroke="#111" stroke-width="0.45" font-size="10.4">P</tspan><tspan font-size="6.4" dy="-4.8" dx="0.9" stroke="#111" stroke-width="0.15" textLength="24.3" lengthAdjust="spacingAndGlyphs">period</tspan></text>
<text x="44.00" y="655.90" font-size="7.8" font-weight="bold" text-anchor="start" stroke="#111" stroke-width="0.2">wt</text>
<text x="115.95" y="656.00" font-size="7.6" text-anchor="middle" font-weight="bold" textLength="8.2" lengthAdjust="spacingAndGlyphs" stroke="#111" stroke-width="0.25">ns</text>
<circle cx="163.70" cy="652.00" r="1.5" fill="#111"/>
<circle cx="167.90" cy="652.00" r="1.5" fill="#111"/>
<circle cx="215.35" cy="652.00" r="1.5" fill="#111"/>
<text x="44.00" y="667.60" font-size="7.8" font-weight="bold" text-anchor="start" stroke="#111" stroke-width="0.2"><tspan textLength="12" lengthAdjust="spacingAndGlyphs">Erα</tspan><tspan font-size="6" dy="-3.2" dx="0.4" stroke="none">-/-</tspan></text>
<text x="115.95" y="667.70" font-size="7.6" text-anchor="middle" font-weight="bold" textLength="8.2" lengthAdjust="spacingAndGlyphs" stroke="#111" stroke-width="0.25">ns</text>
<text x="165.80" y="667.70" font-size="7.6" text-anchor="middle" font-weight="bold" textLength="8.2" lengthAdjust="spacingAndGlyphs" stroke="#111" stroke-width="0.25">ns</text>
<text x="215.35" y="667.70" font-size="7.6" text-anchor="middle" font-weight="bold" textLength="8.2" lengthAdjust="spacingAndGlyphs" stroke="#111" stroke-width="0.25">ns</text>
<text x="44.00" y="679.20" font-size="7.8" font-weight="bold" text-anchor="start" stroke="#111" stroke-width="0.2">AF-1<tspan font-size="5.2" dy="-3.4" stroke="none">0</tspan></text>
<text x="115.95" y="679.30" font-size="7.6" text-anchor="middle" font-weight="bold" textLength="8.2" lengthAdjust="spacingAndGlyphs" stroke="#111" stroke-width="0.25">ns</text>
<circle cx="161.60" cy="675.30" r="1.5" fill="#111"/>
<circle cx="165.80" cy="675.30" r="1.5" fill="#111"/>
<circle cx="170.00" cy="675.30" r="1.5" fill="#111"/>
<text x="215.35" y="679.30" font-size="7.6" text-anchor="middle" font-weight="bold" textLength="8.2" lengthAdjust="spacingAndGlyphs" stroke="#111" stroke-width="0.25">ns</text>
<text x="44.00" y="690.90" font-size="7.8" font-weight="bold" text-anchor="start" stroke="#111" stroke-width="0.2">AF-2<tspan font-size="5.2" dy="-3.4" stroke="none">0</tspan></text>
<text x="115.95" y="691.00" font-size="7.6" text-anchor="middle" font-weight="bold" textLength="8.2" lengthAdjust="spacingAndGlyphs" stroke="#111" stroke-width="0.25">ns</text>
<text x="165.80" y="691.00" font-size="7.6" text-anchor="middle" font-weight="bold" textLength="8.2" lengthAdjust="spacingAndGlyphs" stroke="#111" stroke-width="0.25">ns</text>
<text x="215.35" y="691.00" font-size="7.6" text-anchor="middle" font-weight="bold" textLength="8.2" lengthAdjust="spacingAndGlyphs" stroke="#111" stroke-width="0.25">ns</text>
<rect x="315.70" y="632.30" width="198.40" height="60.30" fill="#fff" stroke="#111" stroke-width="1.1"/>
<line x1="315.70" y1="646.70" x2="514.10" y2="646.70" stroke="#111" stroke-width="1.1"/>
<line x1="365.40" y1="632.30" x2="365.40" y2="692.60" stroke="#111" stroke-width="1"/>
<line x1="415.20" y1="632.30" x2="415.20" y2="692.60" stroke="#111" stroke-width="1"/>
<line x1="464.60" y1="632.30" x2="464.60" y2="692.60" stroke="#111" stroke-width="1"/>
<line x1="315.70" y1="657.70" x2="365.40" y2="657.70" stroke="#111" stroke-width="1.1"/>
<line x1="315.70" y1="669.40" x2="365.40" y2="669.40" stroke="#111" stroke-width="1.1"/>
<line x1="315.70" y1="681.00" x2="365.40" y2="681.00" stroke="#111" stroke-width="1.1"/>
<text x="340.85" y="642.20" font-size="5.6" text-anchor="middle" font-weight="bold" textLength="44.3" lengthAdjust="spacingAndGlyphs" >Two-way Anova</text>
<text x="375.25" y="644.2" font-size="10" font-weight="bold" text-anchor="start"><tspan textLength="5.3" lengthAdjust="spacingAndGlyphs" stroke="#111" stroke-width="0.45" font-size="10.4">P</tspan><tspan font-size="6.4" dy="-4.8" dx="0.9" stroke="#111" stroke-width="0.15" textLength="24.3" lengthAdjust="spacingAndGlyphs">interat*</tspan></text>
<text x="433.60" y="644.2" font-size="10" font-weight="bold" text-anchor="start"><tspan textLength="5.3" lengthAdjust="spacingAndGlyphs" stroke="#111" stroke-width="0.45" font-size="10.4">P</tspan><tspan font-size="6.4" dy="-4.8" dx="0.9" stroke="#111" stroke-width="0.15" textLength="6.8" lengthAdjust="spacingAndGlyphs">E2</tspan></text>
<text x="474.30" y="644.2" font-size="10" font-weight="bold" text-anchor="start"><tspan textLength="5.3" lengthAdjust="spacingAndGlyphs" stroke="#111" stroke-width="0.45" font-size="10.4">P</tspan><tspan font-size="6.4" dy="-4.8" dx="0.9" stroke="#111" stroke-width="0.15" textLength="24.3" lengthAdjust="spacingAndGlyphs">period</tspan></text>
<text x="317.90" y="655.90" font-size="7.8" font-weight="bold" text-anchor="start" stroke="#111" stroke-width="0.2">wt</text>
<text x="390.30" y="656.00" font-size="7.6" text-anchor="middle" font-weight="bold" textLength="8.2" lengthAdjust="spacingAndGlyphs" stroke="#111" stroke-width="0.25">ns</text>
<circle cx="437.80" cy="652.00" r="1.5" fill="#111"/>
<circle cx="442.00" cy="652.00" r="1.5" fill="#111"/>
<text x="489.35" y="656.00" font-size="7.6" text-anchor="middle" font-weight="bold" textLength="8.2" lengthAdjust="spacingAndGlyphs" stroke="#111" stroke-width="0.25">ns</text>
<text x="317.90" y="667.60" font-size="7.8" font-weight="bold" text-anchor="start" stroke="#111" stroke-width="0.2"><tspan textLength="12" lengthAdjust="spacingAndGlyphs">Erα</tspan><tspan font-size="6" dy="-3.2" dx="0.4" stroke="none">-/-</tspan></text>
<text x="390.30" y="667.70" font-size="7.6" text-anchor="middle" font-weight="bold" textLength="8.2" lengthAdjust="spacingAndGlyphs" stroke="#111" stroke-width="0.25">ns</text>
<text x="439.90" y="667.70" font-size="7.6" text-anchor="middle" font-weight="bold" textLength="8.2" lengthAdjust="spacingAndGlyphs" stroke="#111" stroke-width="0.25">ns</text>
<circle cx="487.25" cy="663.70" r="1.5" fill="#111"/>
<circle cx="491.45" cy="663.70" r="1.5" fill="#111"/>
<text x="317.90" y="679.20" font-size="7.8" font-weight="bold" text-anchor="start" stroke="#111" stroke-width="0.2">AF-1<tspan font-size="5.2" dy="-3.4" stroke="none">0</tspan></text>
<circle cx="388.20" cy="675.30" r="1.5" fill="#111"/>
<circle cx="392.40" cy="675.30" r="1.5" fill="#111"/>
<text x="439.90" y="679.30" font-size="7.6" text-anchor="middle" font-weight="bold" textLength="8.2" lengthAdjust="spacingAndGlyphs" stroke="#111" stroke-width="0.25">ns</text>
<circle cx="485.15" cy="675.30" r="1.5" fill="#111"/>
<circle cx="489.35" cy="675.30" r="1.5" fill="#111"/>
<circle cx="493.55" cy="675.30" r="1.5" fill="#111"/>
<text x="317.90" y="690.90" font-size="7.8" font-weight="bold" text-anchor="start" stroke="#111" stroke-width="0.2">AF-2<tspan font-size="5.2" dy="-3.4" stroke="none">0</tspan></text>
<text x="390.30" y="691.00" font-size="7.6" text-anchor="middle" font-weight="bold" textLength="8.2" lengthAdjust="spacingAndGlyphs" stroke="#111" stroke-width="0.25">ns</text>
<text x="439.90" y="691.00" font-size="7.6" text-anchor="middle" font-weight="bold" textLength="8.2" lengthAdjust="spacingAndGlyphs" stroke="#111" stroke-width="0.25">ns</text>
<circle cx="487.25" cy="687.00" r="1.5" fill="#111"/>
<circle cx="491.45" cy="687.00" r="1.5" fill="#111"/>
</g>
</svg>
</body></html>
